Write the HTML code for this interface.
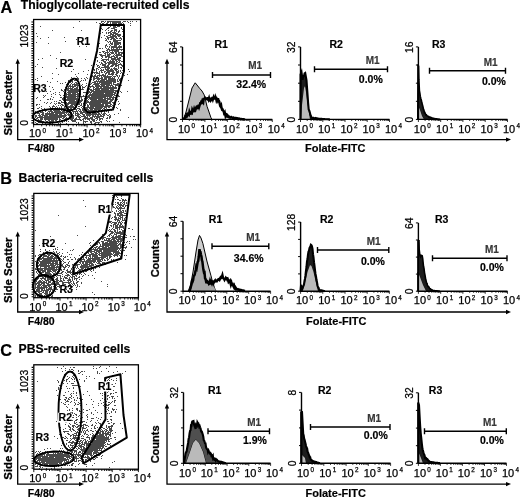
<!DOCTYPE html><html><head><meta charset="utf-8"><style>html,body{margin:0;padding:0;background:#fff;}svg{display:block;filter:blur(0.3px);}</style></head><body><svg width="520" height="497" viewBox="0 0 520 497" font-family='"Liberation Sans", sans-serif'>
<defs><filter id="soft" x="0" y="0" width="100%" height="100%"><feGaussianBlur stdDeviation="0.4"/></filter></defs>
<rect width="520" height="497" fill="#fff"/>
<text x="0.5" y="12.5" font-size="16.3" font-weight="bold" text-anchor="start" fill="#000" stroke="#000" stroke-width="0.18">A</text>
<text x="20.8" y="8.7" font-size="12.2" font-weight="bold" text-anchor="start" fill="#000" stroke="#000" stroke-width="0.18">Thioglycollate-recruited cells</text>
<path d="M35 66.5h1M35 79.5h1M35 111.5h1M35 112.5h1M35 115.5h1M35 116.5h1M35 117.5h1M35 119.5h1M35 120.5h1M35 122.5h1M36 33.5h1M36 42.5h1M36 98.5h1M36 104.5h1M36 105.5h1M36 115.5h1M36 116.5h1M36 118.5h1M36 120.5h1M36 123.5h1M37 36.5h1M37 64.5h1M37 78.5h1M37 80.5h1M37 97.5h1M37 104.5h1M37 108.5h1M37 112.5h1M37 113.5h1M37 117.5h1M37 118.5h1M37 121.5h1M37 123.5h1M38 59.5h1M38 108.5h1M38 111.5h1M38 112.5h1M38 113.5h1M38 115.5h1M38 117.5h1M38 119.5h1M38 120.5h1M38 122.5h1M39 92.5h1M39 104.5h1M39 107.5h1M39 110.5h1M39 113.5h1M39 114.5h1M39 115.5h1M39 116.5h1M39 117.5h1M39 120.5h1M39 122.5h1M40 26.5h1M40 38.5h1M40 100.5h1M40 110.5h1M40 112.5h1M40 115.5h1M40 116.5h1M40 117.5h1M40 118.5h1M40 119.5h1M40 120.5h1M40 122.5h1M41 76.5h1M41 106.5h1M41 108.5h1M41 112.5h1M41 114.5h1M41 116.5h1M41 117.5h1M41 118.5h1M41 119.5h1M41 120.5h1M41 122.5h1M42 58.5h1M42 67.5h1M42 109.5h1M42 110.5h1M42 111.5h1M42 112.5h1M42 113.5h1M42 114.5h1M42 115.5h1M42 116.5h1M42 117.5h1M42 118.5h1M42 119.5h1M42 121.5h1M42 122.5h1M42 123.5h1M43 95.5h1M43 97.5h1M43 112.5h1M43 113.5h1M43 114.5h1M43 115.5h1M43 117.5h1M43 121.5h1M44 96.5h1M44 102.5h1M44 108.5h1M44 110.5h1M44 115.5h1M44 116.5h1M44 117.5h1M44 118.5h1M44 119.5h1M44 122.5h1M45 95.5h1M45 109.5h1M45 110.5h1M45 111.5h1M45 113.5h1M45 114.5h1M45 115.5h1M45 116.5h1M45 117.5h1M45 118.5h1M45 119.5h1M45 120.5h1M45 122.5h1M45 123.5h1M46 91.5h1M46 103.5h1M46 110.5h1M46 113.5h1M46 114.5h1M46 115.5h1M46 116.5h1M46 117.5h1M46 118.5h1M46 119.5h1M46 121.5h1M47 81.5h1M47 93.5h1M47 99.5h1M47 102.5h1M47 112.5h1M47 113.5h1M47 114.5h1M47 115.5h1M47 116.5h1M47 117.5h1M47 118.5h1M47 119.5h1M47 121.5h1M48 37.5h1M48 43.5h1M48 99.5h1M48 109.5h1M48 111.5h1M48 113.5h1M48 114.5h1M48 116.5h1M48 117.5h1M48 118.5h1M48 119.5h1M48 120.5h1M48 122.5h1M49 86.5h1M49 106.5h1M49 111.5h1M49 112.5h1M49 113.5h1M49 114.5h1M49 115.5h1M49 116.5h1M49 117.5h1M49 118.5h1M49 119.5h1M49 120.5h1M49 121.5h1M49 123.5h1M50 55.5h1M50 82.5h1M50 91.5h1M50 98.5h1M50 99.5h1M50 103.5h1M50 107.5h1M50 108.5h1M50 110.5h1M50 111.5h1M50 113.5h1M50 114.5h1M50 115.5h1M50 116.5h1M50 117.5h1M50 118.5h1M50 119.5h1M50 121.5h1M50 123.5h1M51 94.5h1M51 96.5h1M51 102.5h1M51 109.5h1M51 110.5h1M51 111.5h1M51 112.5h1M51 113.5h1M51 114.5h1M51 115.5h1M51 116.5h1M51 117.5h1M51 118.5h1M51 119.5h1M51 120.5h1M51 121.5h1M52 30.5h1M52 73.5h1M52 78.5h1M52 87.5h1M52 99.5h1M52 106.5h1M52 107.5h1M52 108.5h1M52 109.5h1M52 111.5h1M52 112.5h1M52 113.5h1M52 114.5h1M52 115.5h1M52 116.5h1M52 117.5h1M52 118.5h1M52 119.5h1M52 120.5h1M52 121.5h1M52 122.5h1M52 123.5h1M53 89.5h1M53 93.5h1M53 97.5h1M53 105.5h1M53 106.5h1M53 110.5h1M53 112.5h1M53 113.5h1M53 114.5h1M53 115.5h1M53 116.5h1M53 117.5h1M53 118.5h1M53 119.5h1M53 120.5h1M53 121.5h1M53 122.5h1M54 101.5h1M54 103.5h1M54 106.5h1M54 108.5h1M54 109.5h1M54 110.5h1M54 111.5h1M54 112.5h1M54 114.5h1M54 115.5h1M54 116.5h1M54 117.5h1M54 118.5h1M54 119.5h1M55 92.5h1M55 94.5h1M55 104.5h1M55 107.5h1M55 109.5h1M55 110.5h1M55 111.5h1M55 112.5h1M55 113.5h1M55 114.5h1M55 115.5h1M55 116.5h1M55 117.5h1M55 118.5h1M55 119.5h1M55 120.5h1M56 58.5h1M56 68.5h1M56 101.5h1M56 103.5h1M56 106.5h1M56 108.5h1M56 109.5h1M56 110.5h1M56 111.5h1M56 112.5h1M56 113.5h1M56 114.5h1M56 115.5h1M56 116.5h1M56 117.5h1M56 118.5h1M56 119.5h1M56 120.5h1M56 122.5h1M57 81.5h1M57 107.5h1M57 108.5h1M57 109.5h1M57 110.5h1M57 111.5h1M57 112.5h1M57 113.5h1M57 114.5h1M57 115.5h1M57 116.5h1M57 117.5h1M57 118.5h1M57 119.5h1M57 121.5h1M57 122.5h1M58 74.5h1M58 102.5h1M58 103.5h1M58 105.5h1M58 109.5h1M58 110.5h1M58 111.5h1M58 112.5h1M58 113.5h1M58 115.5h1M58 116.5h1M58 117.5h1M58 123.5h1M59 92.5h1M59 94.5h1M59 100.5h1M59 102.5h1M59 103.5h1M59 107.5h1M59 108.5h1M59 110.5h1M59 111.5h1M59 112.5h1M59 113.5h1M59 114.5h1M59 115.5h1M59 116.5h1M59 117.5h1M59 118.5h1M59 119.5h1M59 120.5h1M59 121.5h1M60 52.5h1M60 83.5h1M60 95.5h1M60 97.5h1M60 100.5h1M60 103.5h1M60 105.5h1M60 111.5h1M60 112.5h1M60 113.5h1M60 114.5h1M60 115.5h1M60 116.5h1M60 117.5h1M60 119.5h1M60 121.5h1M60 123.5h1M61 61.5h1M61 89.5h1M61 90.5h1M61 97.5h1M61 101.5h1M61 102.5h1M61 104.5h1M61 106.5h1M61 107.5h1M61 108.5h1M61 110.5h1M61 112.5h1M61 113.5h1M61 114.5h1M61 115.5h1M61 116.5h1M61 117.5h1M61 120.5h1M62 83.5h1M62 90.5h1M62 98.5h1M62 99.5h1M62 102.5h1M62 104.5h1M62 105.5h1M62 108.5h1M62 111.5h1M62 112.5h1M62 113.5h1M62 115.5h1M62 116.5h1M62 118.5h1M62 121.5h1M62 122.5h1M63 91.5h1M63 95.5h1M63 97.5h1M63 98.5h1M63 99.5h1M63 100.5h1M63 102.5h1M63 105.5h1M63 108.5h1M63 110.5h1M63 111.5h1M63 112.5h1M63 113.5h1M63 115.5h1M63 116.5h1M63 117.5h1M63 118.5h1M63 120.5h1M64 37.5h1M64 89.5h1M64 90.5h1M64 92.5h1M64 95.5h1M64 99.5h1M64 101.5h1M64 102.5h1M64 103.5h1M64 106.5h1M64 107.5h1M64 108.5h1M64 109.5h1M64 111.5h1M64 112.5h1M64 113.5h1M64 114.5h1M64 115.5h1M64 116.5h1M64 117.5h1M64 119.5h1M64 121.5h1M65 41.5h1M65 82.5h1M65 87.5h1M65 91.5h1M65 96.5h1M65 97.5h1M65 98.5h1M65 99.5h1M65 100.5h1M65 101.5h1M65 102.5h1M65 104.5h1M65 106.5h1M65 108.5h1M65 109.5h1M65 112.5h1M65 114.5h1M65 115.5h1M65 116.5h1M65 118.5h1M65 119.5h1M65 120.5h1M66 84.5h1M66 93.5h1M66 94.5h1M66 95.5h1M66 96.5h1M66 97.5h1M66 99.5h1M66 100.5h1M66 102.5h1M66 103.5h1M66 104.5h1M66 105.5h1M66 106.5h1M66 107.5h1M66 111.5h1M66 112.5h1M66 113.5h1M66 115.5h1M66 117.5h1M66 118.5h1M66 120.5h1M66 121.5h1M66 123.5h1M67 83.5h1M67 88.5h1M67 89.5h1M67 90.5h1M67 92.5h1M67 94.5h1M67 96.5h1M67 97.5h1M67 98.5h1M67 99.5h1M67 100.5h1M67 103.5h1M67 104.5h1M67 105.5h1M67 106.5h1M67 107.5h1M67 108.5h1M67 109.5h1M67 111.5h1M67 112.5h1M67 114.5h1M67 118.5h1M67 119.5h1M68 80.5h1M68 81.5h1M68 82.5h1M68 84.5h1M68 86.5h1M68 87.5h1M68 88.5h1M68 89.5h1M68 90.5h1M68 91.5h1M68 92.5h1M68 93.5h1M68 94.5h1M68 95.5h1M68 96.5h1M68 97.5h1M68 98.5h1M68 99.5h1M68 100.5h1M68 102.5h1M68 103.5h1M68 104.5h1M68 106.5h1M68 107.5h1M68 108.5h1M68 109.5h1M68 111.5h1M68 113.5h1M68 114.5h1M68 115.5h1M68 118.5h1M68 119.5h1M68 121.5h1M69 82.5h1M69 85.5h1M69 86.5h1M69 88.5h1M69 90.5h1M69 91.5h1M69 92.5h1M69 93.5h1M69 94.5h1M69 95.5h1M69 96.5h1M69 97.5h1M69 98.5h1M69 99.5h1M69 100.5h1M69 101.5h1M69 102.5h1M69 103.5h1M69 106.5h1M69 107.5h1M69 109.5h1M69 110.5h1M69 111.5h1M69 112.5h1M69 114.5h1M69 115.5h1M69 116.5h1M69 117.5h1M70 81.5h1M70 82.5h1M70 84.5h1M70 85.5h1M70 86.5h1M70 87.5h1M70 88.5h1M70 89.5h1M70 90.5h1M70 91.5h1M70 92.5h1M70 93.5h1M70 94.5h1M70 95.5h1M70 96.5h1M70 97.5h1M70 98.5h1M70 99.5h1M70 100.5h1M70 101.5h1M70 102.5h1M70 103.5h1M70 105.5h1M70 106.5h1M70 107.5h1M70 108.5h1M70 109.5h1M70 111.5h1M70 112.5h1M70 113.5h1M70 114.5h1M70 115.5h1M70 116.5h1M70 118.5h1M70 119.5h1M71 71.5h1M71 77.5h1M71 80.5h1M71 81.5h1M71 83.5h1M71 86.5h1M71 88.5h1M71 89.5h1M71 90.5h1M71 91.5h1M71 92.5h1M71 94.5h1M71 95.5h1M71 96.5h1M71 97.5h1M71 98.5h1M71 99.5h1M71 100.5h1M71 101.5h1M71 102.5h1M71 103.5h1M71 104.5h1M71 105.5h1M71 106.5h1M71 107.5h1M71 108.5h1M71 109.5h1M71 110.5h1M71 112.5h1M71 113.5h1M71 114.5h1M71 115.5h1M71 116.5h1M71 117.5h1M71 118.5h1M71 119.5h1M71 120.5h1M72 62.5h1M72 79.5h1M72 80.5h1M72 81.5h1M72 82.5h1M72 84.5h1M72 85.5h1M72 86.5h1M72 87.5h1M72 88.5h1M72 89.5h1M72 90.5h1M72 91.5h1M72 92.5h1M72 93.5h1M72 94.5h1M72 95.5h1M72 96.5h1M72 97.5h1M72 98.5h1M72 99.5h1M72 100.5h1M72 101.5h1M72 102.5h1M72 103.5h1M72 104.5h1M72 105.5h1M72 106.5h1M72 107.5h1M72 109.5h1M72 111.5h1M72 114.5h1M72 115.5h1M72 116.5h1M72 117.5h1M72 118.5h1M72 119.5h1M72 120.5h1M72 121.5h1M73 27.5h1M73 69.5h1M73 78.5h1M73 79.5h1M73 84.5h1M73 86.5h1M73 87.5h1M73 89.5h1M73 90.5h1M73 91.5h1M73 92.5h1M73 93.5h1M73 94.5h1M73 95.5h1M73 96.5h1M73 97.5h1M73 98.5h1M73 99.5h1M73 100.5h1M73 101.5h1M73 102.5h1M73 103.5h1M73 104.5h1M73 106.5h1M73 107.5h1M73 109.5h1M73 111.5h1M73 112.5h1M73 113.5h1M73 115.5h1M73 116.5h1M73 117.5h1M73 118.5h1M73 120.5h1M73 121.5h1M74 80.5h1M74 83.5h1M74 84.5h1M74 85.5h1M74 86.5h1M74 88.5h1M74 89.5h1M74 90.5h1M74 91.5h1M74 92.5h1M74 93.5h1M74 94.5h1M74 95.5h1M74 96.5h1M74 97.5h1M74 98.5h1M74 99.5h1M74 100.5h1M74 101.5h1M74 102.5h1M74 103.5h1M74 104.5h1M74 105.5h1M74 108.5h1M74 109.5h1M74 111.5h1M74 119.5h1M74 120.5h1M74 121.5h1M75 74.5h1M75 78.5h1M75 79.5h1M75 80.5h1M75 82.5h1M75 84.5h1M75 85.5h1M75 86.5h1M75 88.5h1M75 89.5h1M75 90.5h1M75 91.5h1M75 92.5h1M75 93.5h1M75 94.5h1M75 95.5h1M75 96.5h1M75 97.5h1M75 98.5h1M75 99.5h1M75 101.5h1M75 102.5h1M75 103.5h1M75 104.5h1M75 105.5h1M75 106.5h1M75 108.5h1M75 109.5h1M75 111.5h1M75 112.5h1M75 113.5h1M75 114.5h1M75 115.5h1M75 118.5h1M75 119.5h1M75 120.5h1M75 121.5h1M76 39.5h1M76 76.5h1M76 78.5h1M76 80.5h1M76 82.5h1M76 83.5h1M76 84.5h1M76 85.5h1M76 87.5h1M76 88.5h1M76 89.5h1M76 90.5h1M76 91.5h1M76 92.5h1M76 94.5h1M76 96.5h1M76 98.5h1M76 99.5h1M76 100.5h1M76 101.5h1M76 102.5h1M76 103.5h1M76 104.5h1M76 106.5h1M76 107.5h1M76 109.5h1M76 110.5h1M76 111.5h1M76 113.5h1M76 115.5h1M76 117.5h1M76 118.5h1M76 119.5h1M76 122.5h1M77 77.5h1M77 78.5h1M77 81.5h1M77 83.5h1M77 84.5h1M77 85.5h1M77 86.5h1M77 87.5h1M77 88.5h1M77 89.5h1M77 90.5h1M77 91.5h1M77 92.5h1M77 93.5h1M77 94.5h1M77 95.5h1M77 96.5h1M77 97.5h1M77 98.5h1M77 99.5h1M77 100.5h1M77 101.5h1M77 102.5h1M77 103.5h1M77 104.5h1M77 108.5h1M77 111.5h1M77 112.5h1M77 113.5h1M77 114.5h1M77 115.5h1M77 116.5h1M77 119.5h1M78 73.5h1M78 78.5h1M78 79.5h1M78 83.5h1M78 85.5h1M78 89.5h1M78 90.5h1M78 91.5h1M78 93.5h1M78 94.5h1M78 95.5h1M78 96.5h1M78 100.5h1M78 102.5h1M78 103.5h1M78 104.5h1M78 106.5h1M78 108.5h1M78 110.5h1M78 113.5h1M78 114.5h1M78 115.5h1M78 116.5h1M78 117.5h1M78 119.5h1M78 122.5h1M78 123.5h1M79 21.5h1M79 46.5h1M79 86.5h1M79 87.5h1M79 89.5h1M79 91.5h1M79 93.5h1M79 94.5h1M79 96.5h1M79 97.5h1M79 99.5h1M79 100.5h1M79 101.5h1M79 102.5h1M79 103.5h1M79 104.5h1M79 106.5h1M79 108.5h1M79 109.5h1M79 111.5h1M79 114.5h1M79 116.5h1M79 117.5h1M79 118.5h1M79 119.5h1M80 81.5h1M80 86.5h1M80 87.5h1M80 88.5h1M80 90.5h1M80 91.5h1M80 92.5h1M80 93.5h1M80 94.5h1M80 96.5h1M80 100.5h1M80 101.5h1M80 102.5h1M80 105.5h1M80 109.5h1M80 110.5h1M80 111.5h1M80 112.5h1M80 113.5h1M80 115.5h1M80 117.5h1M80 119.5h1M80 120.5h1M81 30.5h1M81 78.5h1M81 80.5h1M81 85.5h1M81 89.5h1M81 96.5h1M81 97.5h1M81 98.5h1M81 99.5h1M81 100.5h1M81 101.5h1M81 103.5h1M81 104.5h1M81 105.5h1M81 107.5h1M81 111.5h1M81 112.5h1M81 113.5h1M81 116.5h1M81 120.5h1M82 84.5h1M82 86.5h1M82 87.5h1M82 88.5h1M82 89.5h1M82 96.5h1M82 99.5h1M82 100.5h1M82 106.5h1M82 108.5h1M82 109.5h1M82 110.5h1M82 112.5h1M82 113.5h1M82 114.5h1M82 116.5h1M82 119.5h1M83 71.5h1M83 80.5h1M83 87.5h1M83 89.5h1M83 92.5h1M83 95.5h1M83 96.5h1M83 103.5h1M83 107.5h1M83 109.5h1M83 110.5h1M83 111.5h1M83 112.5h1M83 114.5h1M83 115.5h1M83 116.5h1M83 118.5h1M83 119.5h1M83 120.5h1M83 121.5h1M83 122.5h1M83 123.5h1M84 78.5h1M84 87.5h1M84 92.5h1M84 96.5h1M84 98.5h1M84 105.5h1M84 106.5h1M84 107.5h1M84 110.5h1M84 111.5h1M84 112.5h1M84 114.5h1M84 115.5h1M84 116.5h1M84 117.5h1M84 118.5h1M84 121.5h1M85 59.5h1M85 79.5h1M85 80.5h1M85 86.5h1M85 92.5h1M85 100.5h1M85 101.5h1M85 102.5h1M85 103.5h1M85 104.5h1M85 105.5h1M85 107.5h1M85 108.5h1M85 109.5h1M85 111.5h1M85 112.5h1M85 113.5h1M85 116.5h1M85 117.5h1M85 118.5h1M85 119.5h1M85 121.5h1M85 122.5h1M86 46.5h1M86 77.5h1M86 83.5h1M86 85.5h1M86 95.5h1M86 96.5h1M86 98.5h1M86 99.5h1M86 100.5h1M86 101.5h1M86 102.5h1M86 103.5h1M86 107.5h1M86 108.5h1M86 109.5h1M86 110.5h1M86 111.5h1M86 112.5h1M86 113.5h1M86 114.5h1M86 115.5h1M86 117.5h1M86 118.5h1M86 121.5h1M87 74.5h1M87 78.5h1M87 89.5h1M87 92.5h1M87 93.5h1M87 94.5h1M87 96.5h1M87 97.5h1M87 98.5h1M87 100.5h1M87 101.5h1M87 102.5h1M87 104.5h1M87 105.5h1M87 106.5h1M87 107.5h1M87 108.5h1M87 109.5h1M87 111.5h1M87 113.5h1M87 114.5h1M87 115.5h1M87 116.5h1M87 117.5h1M87 118.5h1M87 119.5h1M87 121.5h1M88 70.5h1M88 86.5h1M88 88.5h1M88 89.5h1M88 90.5h1M88 91.5h1M88 92.5h1M88 93.5h1M88 95.5h1M88 96.5h1M88 97.5h1M88 99.5h1M88 101.5h1M88 102.5h1M88 105.5h1M88 106.5h1M88 107.5h1M88 109.5h1M88 110.5h1M88 111.5h1M88 112.5h1M88 114.5h1M88 115.5h1M88 118.5h1M88 119.5h1M89 83.5h1M89 86.5h1M89 88.5h1M89 89.5h1M89 91.5h1M89 92.5h1M89 94.5h1M89 95.5h1M89 96.5h1M89 97.5h1M89 98.5h1M89 102.5h1M89 103.5h1M89 104.5h1M89 107.5h1M89 108.5h1M89 110.5h1M89 111.5h1M89 112.5h1M89 113.5h1M89 114.5h1M89 115.5h1M89 116.5h1M89 118.5h1M89 119.5h1M89 120.5h1M90 76.5h1M90 80.5h1M90 84.5h1M90 86.5h1M90 87.5h1M90 89.5h1M90 90.5h1M90 92.5h1M90 93.5h1M90 94.5h1M90 95.5h1M90 97.5h1M90 98.5h1M90 99.5h1M90 101.5h1M90 102.5h1M90 103.5h1M90 104.5h1M90 105.5h1M90 106.5h1M90 107.5h1M90 108.5h1M90 109.5h1M90 110.5h1M90 111.5h1M90 112.5h1M90 113.5h1M90 114.5h1M90 115.5h1M90 117.5h1M90 118.5h1M90 121.5h1M90 122.5h1M91 65.5h1M91 77.5h1M91 79.5h1M91 83.5h1M91 86.5h1M91 89.5h1M91 90.5h1M91 91.5h1M91 92.5h1M91 94.5h1M91 95.5h1M91 96.5h1M91 97.5h1M91 98.5h1M91 99.5h1M91 100.5h1M91 101.5h1M91 102.5h1M91 103.5h1M91 104.5h1M91 105.5h1M91 106.5h1M91 107.5h1M91 108.5h1M91 109.5h1M91 110.5h1M91 111.5h1M91 112.5h1M91 114.5h1M91 117.5h1M91 118.5h1M91 119.5h1M91 121.5h1M91 122.5h1M91 123.5h1M92 72.5h1M92 73.5h1M92 75.5h1M92 76.5h1M92 82.5h1M92 85.5h1M92 86.5h1M92 90.5h1M92 91.5h1M92 93.5h1M92 94.5h1M92 95.5h1M92 96.5h1M92 97.5h1M92 98.5h1M92 99.5h1M92 100.5h1M92 101.5h1M92 102.5h1M92 103.5h1M92 104.5h1M92 105.5h1M92 106.5h1M92 107.5h1M92 108.5h1M92 109.5h1M92 110.5h1M92 111.5h1M92 112.5h1M92 113.5h1M92 114.5h1M92 115.5h1M92 116.5h1M92 117.5h1M92 118.5h1M92 119.5h1M92 120.5h1M93 69.5h1M93 72.5h1M93 76.5h1M93 77.5h1M93 78.5h1M93 79.5h1M93 80.5h1M93 82.5h1M93 84.5h1M93 86.5h1M93 87.5h1M93 88.5h1M93 89.5h1M93 90.5h1M93 91.5h1M93 92.5h1M93 93.5h1M93 94.5h1M93 95.5h1M93 96.5h1M93 97.5h1M93 98.5h1M93 99.5h1M93 100.5h1M93 101.5h1M93 102.5h1M93 103.5h1M93 104.5h1M93 105.5h1M93 106.5h1M93 107.5h1M93 108.5h1M93 110.5h1M93 111.5h1M93 112.5h1M93 113.5h1M93 114.5h1M93 115.5h1M93 116.5h1M93 119.5h1M93 120.5h1M93 121.5h1M94 62.5h1M94 64.5h1M94 69.5h1M94 70.5h1M94 72.5h1M94 73.5h1M94 75.5h1M94 76.5h1M94 77.5h1M94 78.5h1M94 79.5h1M94 81.5h1M94 82.5h1M94 83.5h1M94 84.5h1M94 87.5h1M94 89.5h1M94 91.5h1M94 92.5h1M94 93.5h1M94 94.5h1M94 95.5h1M94 96.5h1M94 97.5h1M94 98.5h1M94 99.5h1M94 100.5h1M94 101.5h1M94 102.5h1M94 103.5h1M94 104.5h1M94 105.5h1M94 106.5h1M94 108.5h1M94 109.5h1M94 110.5h1M94 111.5h1M94 112.5h1M94 113.5h1M94 114.5h1M94 116.5h1M94 117.5h1M94 119.5h1M94 120.5h1M94 121.5h1M94 123.5h1M95 58.5h1M95 72.5h1M95 74.5h1M95 75.5h1M95 76.5h1M95 78.5h1M95 81.5h1M95 82.5h1M95 83.5h1M95 84.5h1M95 85.5h1M95 86.5h1M95 88.5h1M95 89.5h1M95 90.5h1M95 91.5h1M95 92.5h1M95 93.5h1M95 94.5h1M95 95.5h1M95 96.5h1M95 97.5h1M95 98.5h1M95 99.5h1M95 100.5h1M95 101.5h1M95 102.5h1M95 103.5h1M95 104.5h1M95 105.5h1M95 106.5h1M95 107.5h1M95 108.5h1M95 109.5h1M95 110.5h1M95 111.5h1M95 112.5h1M95 113.5h1M95 114.5h1M95 115.5h1M95 116.5h1M95 118.5h1M95 122.5h1M95 123.5h1M96 22.5h1M96 57.5h1M96 64.5h1M96 68.5h1M96 69.5h1M96 70.5h1M96 71.5h1M96 72.5h1M96 73.5h1M96 76.5h1M96 77.5h1M96 78.5h1M96 80.5h1M96 81.5h1M96 83.5h1M96 84.5h1M96 85.5h1M96 86.5h1M96 87.5h1M96 88.5h1M96 89.5h1M96 90.5h1M96 91.5h1M96 92.5h1M96 93.5h1M96 94.5h1M96 95.5h1M96 96.5h1M96 97.5h1M96 98.5h1M96 99.5h1M96 100.5h1M96 101.5h1M96 102.5h1M96 103.5h1M96 104.5h1M96 105.5h1M96 106.5h1M96 107.5h1M96 108.5h1M96 109.5h1M96 110.5h1M96 111.5h1M96 113.5h1M96 114.5h1M96 116.5h1M96 117.5h1M96 118.5h1M96 120.5h1M96 122.5h1M97 50.5h1M97 57.5h1M97 60.5h1M97 61.5h1M97 65.5h1M97 66.5h1M97 68.5h1M97 72.5h1M97 73.5h1M97 75.5h1M97 76.5h1M97 77.5h1M97 78.5h1M97 79.5h1M97 81.5h1M97 82.5h1M97 83.5h1M97 84.5h1M97 85.5h1M97 86.5h1M97 87.5h1M97 88.5h1M97 89.5h1M97 90.5h1M97 91.5h1M97 92.5h1M97 93.5h1M97 94.5h1M97 95.5h1M97 96.5h1M97 97.5h1M97 98.5h1M97 100.5h1M97 101.5h1M97 102.5h1M97 103.5h1M97 104.5h1M97 105.5h1M97 106.5h1M97 107.5h1M97 108.5h1M97 109.5h1M97 111.5h1M97 112.5h1M97 114.5h1M97 115.5h1M97 116.5h1M97 117.5h1M97 118.5h1M97 119.5h1M97 122.5h1M98 45.5h1M98 46.5h1M98 65.5h1M98 67.5h1M98 69.5h1M98 73.5h1M98 75.5h1M98 77.5h1M98 78.5h1M98 79.5h1M98 80.5h1M98 81.5h1M98 83.5h1M98 84.5h1M98 85.5h1M98 86.5h1M98 87.5h1M98 88.5h1M98 89.5h1M98 90.5h1M98 91.5h1M98 92.5h1M98 93.5h1M98 94.5h1M98 95.5h1M98 96.5h1M98 97.5h1M98 98.5h1M98 99.5h1M98 100.5h1M98 101.5h1M98 102.5h1M98 103.5h1M98 104.5h1M98 105.5h1M98 106.5h1M98 107.5h1M98 108.5h1M98 109.5h1M98 110.5h1M98 111.5h1M98 112.5h1M98 113.5h1M98 114.5h1M98 115.5h1M98 116.5h1M98 117.5h1M98 122.5h1M98 123.5h1M99 23.5h1M99 43.5h1M99 48.5h1M99 52.5h1M99 54.5h1M99 62.5h1M99 66.5h1M99 67.5h1M99 71.5h1M99 72.5h1M99 73.5h1M99 74.5h1M99 75.5h1M99 76.5h1M99 78.5h1M99 79.5h1M99 81.5h1M99 82.5h1M99 83.5h1M99 85.5h1M99 86.5h1M99 88.5h1M99 89.5h1M99 90.5h1M99 91.5h1M99 92.5h1M99 93.5h1M99 94.5h1M99 95.5h1M99 96.5h1M99 97.5h1M99 98.5h1M99 99.5h1M99 100.5h1M99 101.5h1M99 102.5h1M99 103.5h1M99 104.5h1M99 105.5h1M99 106.5h1M99 107.5h1M99 108.5h1M99 109.5h1M99 110.5h1M99 111.5h1M99 113.5h1M99 114.5h1M99 116.5h1M99 117.5h1M99 118.5h1M99 119.5h1M99 120.5h1M99 122.5h1M100 23.5h1M100 33.5h1M100 48.5h1M100 52.5h1M100 54.5h1M100 55.5h1M100 64.5h1M100 68.5h1M100 70.5h1M100 75.5h1M100 78.5h1M100 80.5h1M100 81.5h1M100 82.5h1M100 84.5h1M100 86.5h1M100 87.5h1M100 88.5h1M100 90.5h1M100 91.5h1M100 92.5h1M100 93.5h1M100 94.5h1M100 95.5h1M100 96.5h1M100 97.5h1M100 98.5h1M100 99.5h1M100 100.5h1M100 101.5h1M100 102.5h1M100 103.5h1M100 104.5h1M100 105.5h1M100 106.5h1M100 107.5h1M100 108.5h1M100 109.5h1M100 111.5h1M100 114.5h1M100 115.5h1M100 116.5h1M100 118.5h1M100 119.5h1M100 121.5h1M101 21.5h1M101 22.5h1M101 28.5h1M101 37.5h1M101 54.5h1M101 55.5h1M101 56.5h1M101 58.5h1M101 60.5h1M101 62.5h1M101 63.5h1M101 67.5h1M101 69.5h1M101 70.5h1M101 71.5h1M101 72.5h1M101 75.5h1M101 76.5h1M101 77.5h1M101 78.5h1M101 79.5h1M101 80.5h1M101 81.5h1M101 82.5h1M101 83.5h1M101 84.5h1M101 85.5h1M101 86.5h1M101 87.5h1M101 88.5h1M101 89.5h1M101 90.5h1M101 91.5h1M101 92.5h1M101 93.5h1M101 94.5h1M101 95.5h1M101 96.5h1M101 97.5h1M101 98.5h1M101 99.5h1M101 100.5h1M101 101.5h1M101 102.5h1M101 104.5h1M101 105.5h1M101 106.5h1M101 107.5h1M101 108.5h1M101 110.5h1M101 111.5h1M101 112.5h1M101 113.5h1M101 115.5h1M101 116.5h1M101 118.5h1M101 121.5h1M101 122.5h1M102 21.5h1M102 23.5h1M102 29.5h1M102 32.5h1M102 48.5h1M102 51.5h1M102 55.5h1M102 56.5h1M102 57.5h1M102 59.5h1M102 60.5h1M102 63.5h1M102 64.5h1M102 65.5h1M102 67.5h1M102 70.5h1M102 72.5h1M102 74.5h1M102 75.5h1M102 77.5h1M102 78.5h1M102 79.5h1M102 80.5h1M102 81.5h1M102 82.5h1M102 83.5h1M102 84.5h1M102 85.5h1M102 86.5h1M102 88.5h1M102 89.5h1M102 90.5h1M102 91.5h1M102 92.5h1M102 93.5h1M102 94.5h1M102 95.5h1M102 96.5h1M102 97.5h1M102 98.5h1M102 99.5h1M102 100.5h1M102 101.5h1M102 102.5h1M102 103.5h1M102 104.5h1M102 105.5h1M102 106.5h1M102 107.5h1M102 109.5h1M102 110.5h1M102 111.5h1M102 114.5h1M102 116.5h1M102 118.5h1M102 119.5h1M103 21.5h1M103 23.5h1M103 25.5h1M103 51.5h1M103 52.5h1M103 55.5h1M103 59.5h1M103 60.5h1M103 61.5h1M103 64.5h1M103 65.5h1M103 67.5h1M103 69.5h1M103 70.5h1M103 74.5h1M103 75.5h1M103 76.5h1M103 79.5h1M103 80.5h1M103 81.5h1M103 82.5h1M103 83.5h1M103 84.5h1M103 85.5h1M103 86.5h1M103 87.5h1M103 88.5h1M103 89.5h1M103 90.5h1M103 91.5h1M103 92.5h1M103 93.5h1M103 94.5h1M103 95.5h1M103 96.5h1M103 97.5h1M103 99.5h1M103 100.5h1M103 101.5h1M103 102.5h1M103 103.5h1M103 104.5h1M103 105.5h1M103 106.5h1M103 108.5h1M103 110.5h1M103 113.5h1M103 114.5h1M103 115.5h1M103 116.5h1M103 117.5h1M104 22.5h1M104 35.5h1M104 51.5h1M104 53.5h1M104 55.5h1M104 59.5h1M104 61.5h1M104 62.5h1M104 64.5h1M104 65.5h1M104 66.5h1M104 67.5h1M104 71.5h1M104 72.5h1M104 75.5h1M104 76.5h1M104 77.5h1M104 78.5h1M104 79.5h1M104 80.5h1M104 81.5h1M104 82.5h1M104 83.5h1M104 84.5h1M104 85.5h1M104 86.5h1M104 87.5h1M104 88.5h1M104 89.5h1M104 90.5h1M104 91.5h1M104 92.5h1M104 94.5h1M104 95.5h1M104 96.5h1M104 97.5h1M104 98.5h1M104 99.5h1M104 100.5h1M104 101.5h1M104 102.5h1M104 103.5h1M104 106.5h1M104 107.5h1M104 108.5h1M104 109.5h1M104 110.5h1M104 111.5h1M104 112.5h1M104 113.5h1M104 114.5h1M104 115.5h1M105 21.5h1M105 30.5h1M105 38.5h1M105 40.5h1M105 45.5h1M105 46.5h1M105 47.5h1M105 52.5h1M105 53.5h1M105 54.5h1M105 55.5h1M105 56.5h1M105 57.5h1M105 59.5h1M105 61.5h1M105 62.5h1M105 63.5h1M105 64.5h1M105 65.5h1M105 66.5h1M105 67.5h1M105 68.5h1M105 69.5h1M105 71.5h1M105 73.5h1M105 74.5h1M105 75.5h1M105 76.5h1M105 77.5h1M105 78.5h1M105 79.5h1M105 81.5h1M105 82.5h1M105 83.5h1M105 84.5h1M105 86.5h1M105 87.5h1M105 88.5h1M105 89.5h1M105 90.5h1M105 91.5h1M105 92.5h1M105 93.5h1M105 94.5h1M105 95.5h1M105 96.5h1M105 97.5h1M105 98.5h1M105 99.5h1M105 100.5h1M105 101.5h1M105 102.5h1M105 103.5h1M105 104.5h1M105 105.5h1M105 106.5h1M105 107.5h1M105 109.5h1M105 110.5h1M105 113.5h1M106 23.5h1M106 24.5h1M106 25.5h1M106 29.5h1M106 32.5h1M106 33.5h1M106 36.5h1M106 39.5h1M106 40.5h1M106 44.5h1M106 45.5h1M106 48.5h1M106 50.5h1M106 52.5h1M106 56.5h1M106 57.5h1M106 59.5h1M106 60.5h1M106 63.5h1M106 66.5h1M106 67.5h1M106 69.5h1M106 70.5h1M106 72.5h1M106 73.5h1M106 76.5h1M106 77.5h1M106 78.5h1M106 79.5h1M106 80.5h1M106 81.5h1M106 82.5h1M106 83.5h1M106 84.5h1M106 85.5h1M106 86.5h1M106 87.5h1M106 88.5h1M106 89.5h1M106 90.5h1M106 91.5h1M106 92.5h1M106 93.5h1M106 94.5h1M106 95.5h1M106 96.5h1M106 98.5h1M106 100.5h1M106 101.5h1M106 102.5h1M106 103.5h1M106 104.5h1M106 105.5h1M106 106.5h1M106 107.5h1M106 108.5h1M106 111.5h1M106 114.5h1M106 118.5h1M106 120.5h1M107 21.5h1M107 22.5h1M107 23.5h1M107 25.5h1M107 28.5h1M107 36.5h1M107 37.5h1M107 38.5h1M107 41.5h1M107 46.5h1M107 49.5h1M107 50.5h1M107 51.5h1M107 52.5h1M107 53.5h1M107 54.5h1M107 55.5h1M107 56.5h1M107 59.5h1M107 62.5h1M107 65.5h1M107 66.5h1M107 67.5h1M107 68.5h1M107 69.5h1M107 70.5h1M107 71.5h1M107 72.5h1M107 75.5h1M107 76.5h1M107 77.5h1M107 80.5h1M107 81.5h1M107 82.5h1M107 83.5h1M107 84.5h1M107 85.5h1M107 86.5h1M107 87.5h1M107 88.5h1M107 89.5h1M107 90.5h1M107 91.5h1M107 92.5h1M107 93.5h1M107 94.5h1M107 95.5h1M107 96.5h1M107 97.5h1M107 98.5h1M107 99.5h1M107 100.5h1M107 101.5h1M107 102.5h1M107 103.5h1M107 104.5h1M107 105.5h1M107 106.5h1M107 109.5h1M107 110.5h1M107 115.5h1M107 117.5h1M107 118.5h1M107 121.5h1M108 21.5h1M108 22.5h1M108 24.5h1M108 25.5h1M108 27.5h1M108 28.5h1M108 30.5h1M108 32.5h1M108 33.5h1M108 35.5h1M108 37.5h1M108 38.5h1M108 39.5h1M108 42.5h1M108 48.5h1M108 49.5h1M108 52.5h1M108 54.5h1M108 55.5h1M108 56.5h1M108 57.5h1M108 58.5h1M108 59.5h1M108 60.5h1M108 62.5h1M108 63.5h1M108 64.5h1M108 65.5h1M108 66.5h1M108 67.5h1M108 68.5h1M108 69.5h1M108 70.5h1M108 71.5h1M108 72.5h1M108 73.5h1M108 74.5h1M108 76.5h1M108 77.5h1M108 78.5h1M108 79.5h1M108 80.5h1M108 81.5h1M108 82.5h1M108 83.5h1M108 84.5h1M108 85.5h1M108 86.5h1M108 87.5h1M108 88.5h1M108 89.5h1M108 90.5h1M108 91.5h1M108 92.5h1M108 93.5h1M108 94.5h1M108 95.5h1M108 96.5h1M108 98.5h1M108 99.5h1M108 102.5h1M108 103.5h1M108 105.5h1M108 106.5h1M108 107.5h1M108 109.5h1M108 110.5h1M108 111.5h1M108 112.5h1M108 115.5h1M109 21.5h1M109 24.5h1M109 27.5h1M109 32.5h1M109 35.5h1M109 37.5h1M109 41.5h1M109 44.5h1M109 46.5h1M109 47.5h1M109 49.5h1M109 50.5h1M109 51.5h1M109 53.5h1M109 54.5h1M109 55.5h1M109 56.5h1M109 57.5h1M109 61.5h1M109 62.5h1M109 63.5h1M109 64.5h1M109 67.5h1M109 68.5h1M109 70.5h1M109 71.5h1M109 72.5h1M109 73.5h1M109 74.5h1M109 76.5h1M109 77.5h1M109 78.5h1M109 79.5h1M109 80.5h1M109 81.5h1M109 82.5h1M109 83.5h1M109 84.5h1M109 85.5h1M109 87.5h1M109 88.5h1M109 90.5h1M109 91.5h1M109 92.5h1M109 93.5h1M109 94.5h1M109 95.5h1M109 96.5h1M109 97.5h1M109 98.5h1M109 99.5h1M109 101.5h1M109 102.5h1M109 103.5h1M109 105.5h1M109 106.5h1M109 107.5h1M109 114.5h1M109 116.5h1M109 117.5h1M109 118.5h1M109 121.5h1M110 21.5h1M110 22.5h1M110 23.5h1M110 24.5h1M110 25.5h1M110 26.5h1M110 31.5h1M110 32.5h1M110 33.5h1M110 34.5h1M110 35.5h1M110 36.5h1M110 37.5h1M110 39.5h1M110 41.5h1M110 42.5h1M110 43.5h1M110 45.5h1M110 50.5h1M110 52.5h1M110 54.5h1M110 57.5h1M110 60.5h1M110 61.5h1M110 62.5h1M110 63.5h1M110 66.5h1M110 69.5h1M110 70.5h1M110 71.5h1M110 74.5h1M110 76.5h1M110 77.5h1M110 78.5h1M110 79.5h1M110 80.5h1M110 81.5h1M110 82.5h1M110 83.5h1M110 85.5h1M110 86.5h1M110 87.5h1M110 88.5h1M110 89.5h1M110 90.5h1M110 91.5h1M110 92.5h1M110 93.5h1M110 94.5h1M110 95.5h1M110 96.5h1M110 97.5h1M110 98.5h1M110 99.5h1M110 100.5h1M110 101.5h1M110 102.5h1M110 103.5h1M110 104.5h1M110 105.5h1M110 106.5h1M110 109.5h1M110 115.5h1M110 116.5h1M110 117.5h1M111 21.5h1M111 28.5h1M111 30.5h1M111 31.5h1M111 33.5h1M111 34.5h1M111 36.5h1M111 37.5h1M111 38.5h1M111 39.5h1M111 43.5h1M111 44.5h1M111 46.5h1M111 47.5h1M111 48.5h1M111 49.5h1M111 50.5h1M111 52.5h1M111 53.5h1M111 56.5h1M111 57.5h1M111 58.5h1M111 59.5h1M111 61.5h1M111 62.5h1M111 63.5h1M111 65.5h1M111 66.5h1M111 68.5h1M111 69.5h1M111 70.5h1M111 71.5h1M111 73.5h1M111 74.5h1M111 76.5h1M111 78.5h1M111 79.5h1M111 80.5h1M111 81.5h1M111 82.5h1M111 83.5h1M111 84.5h1M111 85.5h1M111 87.5h1M111 88.5h1M111 89.5h1M111 90.5h1M111 91.5h1M111 92.5h1M111 93.5h1M111 94.5h1M111 95.5h1M111 96.5h1M111 97.5h1M111 99.5h1M111 100.5h1M111 101.5h1M111 104.5h1M111 106.5h1M111 109.5h1M111 110.5h1M112 21.5h1M112 22.5h1M112 23.5h1M112 25.5h1M112 28.5h1M112 30.5h1M112 32.5h1M112 34.5h1M112 35.5h1M112 36.5h1M112 37.5h1M112 38.5h1M112 42.5h1M112 43.5h1M112 44.5h1M112 46.5h1M112 47.5h1M112 49.5h1M112 50.5h1M112 51.5h1M112 52.5h1M112 53.5h1M112 56.5h1M112 58.5h1M112 59.5h1M112 60.5h1M112 61.5h1M112 62.5h1M112 63.5h1M112 64.5h1M112 65.5h1M112 66.5h1M112 69.5h1M112 70.5h1M112 71.5h1M112 72.5h1M112 73.5h1M112 74.5h1M112 75.5h1M112 77.5h1M112 78.5h1M112 79.5h1M112 80.5h1M112 81.5h1M112 85.5h1M112 86.5h1M112 87.5h1M112 88.5h1M112 89.5h1M112 90.5h1M112 91.5h1M112 92.5h1M112 93.5h1M112 94.5h1M112 95.5h1M112 97.5h1M112 98.5h1M112 99.5h1M112 100.5h1M112 102.5h1M112 105.5h1M112 107.5h1M113 21.5h1M113 22.5h1M113 23.5h1M113 24.5h1M113 26.5h1M113 27.5h1M113 28.5h1M113 32.5h1M113 33.5h1M113 34.5h1M113 35.5h1M113 36.5h1M113 37.5h1M113 38.5h1M113 39.5h1M113 40.5h1M113 41.5h1M113 46.5h1M113 47.5h1M113 48.5h1M113 49.5h1M113 50.5h1M113 52.5h1M113 53.5h1M113 55.5h1M113 56.5h1M113 58.5h1M113 59.5h1M113 60.5h1M113 61.5h1M113 62.5h1M113 63.5h1M113 64.5h1M113 65.5h1M113 68.5h1M113 70.5h1M113 71.5h1M113 72.5h1M113 73.5h1M113 74.5h1M113 76.5h1M113 78.5h1M113 79.5h1M113 80.5h1M113 81.5h1M113 82.5h1M113 83.5h1M113 84.5h1M113 86.5h1M113 87.5h1M113 88.5h1M113 89.5h1M113 90.5h1M113 91.5h1M113 92.5h1M113 94.5h1M113 96.5h1M113 97.5h1M113 98.5h1M113 99.5h1M113 102.5h1M113 103.5h1M113 120.5h1M114 21.5h1M114 22.5h1M114 23.5h1M114 24.5h1M114 25.5h1M114 26.5h1M114 27.5h1M114 28.5h1M114 29.5h1M114 30.5h1M114 31.5h1M114 32.5h1M114 33.5h1M114 35.5h1M114 36.5h1M114 38.5h1M114 39.5h1M114 40.5h1M114 41.5h1M114 42.5h1M114 43.5h1M114 44.5h1M114 45.5h1M114 46.5h1M114 47.5h1M114 49.5h1M114 50.5h1M114 51.5h1M114 54.5h1M114 56.5h1M114 57.5h1M114 58.5h1M114 59.5h1M114 61.5h1M114 62.5h1M114 63.5h1M114 64.5h1M114 67.5h1M114 68.5h1M114 69.5h1M114 72.5h1M114 76.5h1M114 77.5h1M114 78.5h1M114 79.5h1M114 80.5h1M114 81.5h1M114 82.5h1M114 84.5h1M114 87.5h1M114 88.5h1M114 90.5h1M114 92.5h1M114 93.5h1M114 94.5h1M114 95.5h1M114 97.5h1M114 104.5h1M114 106.5h1M114 107.5h1M114 114.5h1M115 21.5h1M115 22.5h1M115 23.5h1M115 25.5h1M115 26.5h1M115 27.5h1M115 29.5h1M115 30.5h1M115 32.5h1M115 33.5h1M115 34.5h1M115 35.5h1M115 36.5h1M115 37.5h1M115 39.5h1M115 40.5h1M115 41.5h1M115 42.5h1M115 43.5h1M115 44.5h1M115 45.5h1M115 46.5h1M115 47.5h1M115 49.5h1M115 50.5h1M115 51.5h1M115 52.5h1M115 53.5h1M115 55.5h1M115 57.5h1M115 58.5h1M115 59.5h1M115 60.5h1M115 63.5h1M115 64.5h1M115 65.5h1M115 66.5h1M115 68.5h1M115 69.5h1M115 70.5h1M115 74.5h1M115 76.5h1M115 79.5h1M115 80.5h1M115 81.5h1M115 82.5h1M115 84.5h1M115 85.5h1M115 86.5h1M115 87.5h1M115 88.5h1M115 90.5h1M115 91.5h1M115 92.5h1M115 93.5h1M115 95.5h1M115 97.5h1M115 98.5h1M115 99.5h1M115 104.5h1M116 21.5h1M116 22.5h1M116 23.5h1M116 25.5h1M116 27.5h1M116 29.5h1M116 30.5h1M116 31.5h1M116 33.5h1M116 34.5h1M116 36.5h1M116 37.5h1M116 38.5h1M116 40.5h1M116 41.5h1M116 42.5h1M116 43.5h1M116 44.5h1M116 45.5h1M116 46.5h1M116 47.5h1M116 48.5h1M116 49.5h1M116 50.5h1M116 51.5h1M116 52.5h1M116 53.5h1M116 54.5h1M116 55.5h1M116 56.5h1M116 57.5h1M116 59.5h1M116 60.5h1M116 61.5h1M116 62.5h1M116 63.5h1M116 64.5h1M116 65.5h1M116 66.5h1M116 68.5h1M116 69.5h1M116 70.5h1M116 71.5h1M116 72.5h1M116 73.5h1M116 74.5h1M116 75.5h1M116 84.5h1M116 85.5h1M116 87.5h1M116 88.5h1M116 90.5h1M116 91.5h1M116 95.5h1M116 96.5h1M116 97.5h1M116 100.5h1M116 107.5h1M117 21.5h1M117 22.5h1M117 24.5h1M117 26.5h1M117 33.5h1M117 34.5h1M117 35.5h1M117 38.5h1M117 40.5h1M117 41.5h1M117 42.5h1M117 43.5h1M117 44.5h1M117 47.5h1M117 48.5h1M117 49.5h1M117 50.5h1M117 51.5h1M117 54.5h1M117 55.5h1M117 56.5h1M117 57.5h1M117 58.5h1M117 59.5h1M117 61.5h1M117 63.5h1M117 65.5h1M117 69.5h1M117 71.5h1M117 72.5h1M117 73.5h1M117 75.5h1M117 76.5h1M117 79.5h1M117 80.5h1M117 81.5h1M117 83.5h1M117 84.5h1M117 85.5h1M117 90.5h1M117 91.5h1M117 92.5h1M117 99.5h1M117 108.5h1M118 21.5h1M118 22.5h1M118 23.5h1M118 24.5h1M118 26.5h1M118 31.5h1M118 32.5h1M118 34.5h1M118 35.5h1M118 36.5h1M118 40.5h1M118 42.5h1M118 43.5h1M118 44.5h1M118 46.5h1M118 47.5h1M118 49.5h1M118 50.5h1M118 51.5h1M118 52.5h1M118 53.5h1M118 54.5h1M118 55.5h1M118 58.5h1M118 59.5h1M118 60.5h1M118 62.5h1M118 64.5h1M118 65.5h1M118 66.5h1M118 67.5h1M118 68.5h1M118 70.5h1M118 71.5h1M118 72.5h1M118 77.5h1M118 78.5h1M118 81.5h1M118 83.5h1M118 84.5h1M118 85.5h1M118 86.5h1M118 88.5h1M118 89.5h1M118 91.5h1M118 95.5h1M118 96.5h1M118 101.5h1M118 104.5h1M118 113.5h1M119 21.5h1M119 22.5h1M119 23.5h1M119 26.5h1M119 30.5h1M119 31.5h1M119 34.5h1M119 35.5h1M119 36.5h1M119 38.5h1M119 40.5h1M119 42.5h1M119 43.5h1M119 45.5h1M119 46.5h1M119 47.5h1M119 48.5h1M119 49.5h1M119 52.5h1M119 53.5h1M119 54.5h1M119 55.5h1M119 57.5h1M119 58.5h1M119 59.5h1M119 60.5h1M119 61.5h1M119 62.5h1M119 64.5h1M119 75.5h1M119 76.5h1M119 79.5h1M119 80.5h1M119 85.5h1M119 86.5h1M119 96.5h1M119 103.5h1M119 122.5h1M120 21.5h1M120 22.5h1M120 23.5h1M120 25.5h1M120 34.5h1M120 35.5h1M120 37.5h1M120 38.5h1M120 40.5h1M120 42.5h1M120 43.5h1M120 44.5h1M120 46.5h1M120 47.5h1M120 49.5h1M120 52.5h1M120 54.5h1M120 55.5h1M120 57.5h1M120 58.5h1M120 60.5h1M120 63.5h1M120 64.5h1M120 67.5h1M120 70.5h1M120 71.5h1M120 73.5h1M120 78.5h1M120 79.5h1M120 80.5h1M120 82.5h1M120 91.5h1M120 109.5h1M120 110.5h1M121 23.5h1M121 27.5h1M121 28.5h1M121 38.5h1M121 39.5h1M121 46.5h1M121 47.5h1M121 49.5h1M121 50.5h1M121 52.5h1M121 53.5h1M121 54.5h1M121 55.5h1M121 56.5h1M121 61.5h1M121 64.5h1M121 65.5h1M121 67.5h1M121 68.5h1M121 72.5h1M121 85.5h1M121 92.5h1M122 22.5h1M122 25.5h1M122 29.5h1M122 31.5h1M122 36.5h1M122 49.5h1M122 52.5h1M122 53.5h1M122 56.5h1M122 61.5h1M122 65.5h1M122 66.5h1M122 70.5h1M122 73.5h1M123 21.5h1M123 23.5h1M123 31.5h1M123 38.5h1M123 42.5h1M123 48.5h1M123 53.5h1M123 56.5h1M123 71.5h1M124 21.5h1M124 75.5h1M125 21.5h1M127 21.5h1M127 74.5h1M127 91.5h1M128 22.5h1M128 69.5h1M128 80.5h1M128 117.5h1M129 71.5h1M130 21.5h1M130 23.5h1M130 25.5h1M132 21.5h1M136 21.5h1" stroke="#4a4a4a" stroke-width="1" fill="none" filter="url(#soft)"/>
<path d="M100.8 24.9L124 24.9L124 71.2L113 109.6L88.4 112.8L84.2 108.6L84.2 104.3L89.5 83L97 51Z" fill="none" stroke="#000" stroke-width="2" stroke-linejoin="round"/>
<ellipse cx="72.4" cy="94.5" rx="7.5" ry="16" transform="rotate(8 72.4 94.5)" fill="none" stroke="#000" stroke-width="1.9"/>
<ellipse cx="52.2" cy="115.8" rx="19.5" ry="6.8" transform="rotate(-3 52.2 115.8)" fill="none" stroke="#000" stroke-width="1.9"/>
<text x="76.7" y="44.6" font-size="10.5" font-weight="bold" text-anchor="start" fill="#000" stroke="#000" stroke-width="0.18">R1</text>
<text x="59.7" y="67" font-size="10.5" font-weight="bold" text-anchor="start" fill="#000" stroke="#000" stroke-width="0.18">R2</text>
<text x="33.2" y="91.5" font-size="10.5" font-weight="bold" text-anchor="start" fill="#000" stroke="#000" stroke-width="0.18">R3</text>
<rect x="33.6" y="19.5" width="107" height="105" fill="none" stroke="#000" stroke-width="1.3"/>
<path d="M32.2 21.5V124.5" stroke="#000" stroke-width="1.6" stroke-dasharray="1.1 1.3" fill="none"/>
<path d="M33.6 124.5v2.9M41.7 124.5v1.8M46.4 124.5v1.8M49.7 124.5v1.8M52.3 124.5v1.8M54.4 124.5v1.8M56.2 124.5v1.8M57.8 124.5v1.8M59.1 124.5v1.8M60.4 124.5v2.9M68.4 124.5v1.8M73.1 124.5v1.8M76.5 124.5v1.8M79 124.5v1.8M81.2 124.5v1.8M83 124.5v1.8M84.5 124.5v1.8M85.9 124.5v1.8M87.1 124.5v2.9M95.2 124.5v1.8M99.9 124.5v1.8M103.2 124.5v1.8M105.8 124.5v1.8M107.9 124.5v1.8M109.7 124.5v1.8M111.3 124.5v1.8M112.6 124.5v1.8M113.8 124.5v2.9M121.9 124.5v1.8M126.6 124.5v1.8M130 124.5v1.8M132.5 124.5v1.8M134.7 124.5v1.8M136.5 124.5v1.8M138 124.5v1.8M139.4 124.5v1.8M140.6 124.5v2.9" stroke="#000" stroke-width="0.9" fill="none"/>
<text x="29" y="137.4" font-size="11" fill="#000" stroke="#000" stroke-width="0.25">10<tspan font-size="6.3" dx="1.3" dy="-4.6">0</tspan></text>
<text x="55.8" y="137.4" font-size="11" fill="#000" stroke="#000" stroke-width="0.25">10<tspan font-size="6.3" dx="1.3" dy="-4.6">1</tspan></text>
<text x="82.5" y="137.4" font-size="11" fill="#000" stroke="#000" stroke-width="0.25">10<tspan font-size="6.3" dx="1.3" dy="-4.6">2</tspan></text>
<text x="109.2" y="137.4" font-size="11" fill="#000" stroke="#000" stroke-width="0.25">10<tspan font-size="6.3" dx="1.3" dy="-4.6">3</tspan></text>
<text x="136" y="137.4" font-size="11" fill="#000" stroke="#000" stroke-width="0.25">10<tspan font-size="6.3" dx="1.3" dy="-4.6">4</tspan></text>
<text transform="translate(24.7 35.9) rotate(-90)" font-size="10.4" font-weight="normal" text-anchor="middle" dominant-baseline="central" fill="#000" stroke="#000" stroke-width="0.25">1023</text>
<text transform="translate(24.7 123) rotate(-90)" font-size="10.3" font-weight="normal" text-anchor="middle" dominant-baseline="central" fill="#000" stroke="#000" stroke-width="0.25">0</text>
<path d="M17.7 61.7V139.6H81" fill="none" stroke="#000" stroke-width="1.3"/>
<path d="M17.7 58.7L15.5 63.7L19.9 63.7Z" fill="#000"/>
<path d="M84 139.6L79 137.4L79 141.8Z" fill="#000"/>
<text transform="translate(7.9 102.8) rotate(-90)" font-size="11.3" font-weight="bold" text-anchor="middle" dominant-baseline="central" fill="#000" stroke="#000" stroke-width="0.3">Side Scatter</text>
<text x="27.8" y="151.8" font-size="10.5" font-weight="bold" text-anchor="start" fill="#000" stroke="#000" stroke-width="0.18">F4/80</text>
<path d="M167 61.7V139.6H508" fill="none" stroke="#000" stroke-width="1.3"/>
<path d="M167 58.7L164.8 63.7L169.2 63.7Z" fill="#000"/>
<path d="M511 139.6L506 137.4L506 141.8Z" fill="#000"/>
<text transform="translate(154.7 95.6) rotate(-90)" font-size="11" font-weight="bold" text-anchor="middle" dominant-baseline="central" fill="#000" stroke="#000" stroke-width="0.3">Counts</text>
<text x="305" y="152.1" font-size="11" font-weight="bold" text-anchor="start" fill="#000" stroke="#000" stroke-width="0.18">Folate-FITC</text>
<path d="M183.4 119.5L186 112L189 100L192 88L195.2 82.8L197 85L199.5 88.2L202 91L204.2 94.9L205.5 100L207 106.3L209 112L211 117.8L212 119.5Z" fill="#bababa" stroke="#000" stroke-width="1"/>
<path d="M183.4 119.5L183.9 118.6L184.4 118.5L185.0 117.9L185.5 116.0L186.0 115.5L186.5 114.8L187.0 116.1L187.5 115.2L187.9 113.7L188.4 113.8L188.9 114.5L189.4 111.9L189.9 113.4L190.4 113.6L190.8 110.9L191.3 113.1L191.8 113.4L192.3 109.8L192.8 110.9L193.2 111.0L193.7 111.1L194.2 109.0L194.7 110.5L195.2 110.8L195.7 109.2L196.2 107.5L196.7 106.6L197.2 106.5L197.7 108.0L198.2 107.9L198.7 104.7L199.2 106.8L199.7 105.2L200.2 103.3L200.7 103.4L201.2 102.0L201.7 102.4L202.2 100.9L202.7 101.9L203.2 102.6L203.7 98.9L204.2 98.9L204.7 98.5L205.2 97.8L205.7 98.2L206.2 98.8L206.6 99.1L207.1 99.1L207.6 99.4L208.1 97.3L208.6 99.2L209.0 98.1L209.5 100.1L210.0 100.6L210.5 97.6L211.0 99.8L211.5 100.1L212.0 99.1L212.5 97.0L213.0 99.1L213.5 97.6L214.0 99.3L214.5 96.6L215.0 99.3L215.5 97.0L216.0 98.2L216.5 100.4L217.0 99.3L217.5 100.4L218.0 98.3L218.4 100.4L218.9 100.6L219.3 101.5L219.8 104.3L220.2 106.1L220.7 106.8L221.2 105.7L221.6 108.2L222.1 109.7L222.6 109.5L223.1 110.6L223.6 111.1L224.0 112.7L224.5 115.2L225.0 113.6L225.4 115.5L225.9 113.9L226.3 114.2L226.8 116.4L227.2 116.5L227.7 115.6L228.1 116.2L228.6 117.1L229.0 117.3L229.5 116.9L230.0 117.6L230.4 117.8L230.9 117.6L231.3 117.1L231.8 117.5L232.2 117.8L232.7 117.7L233.1 117.6L233.6 118.3L234.0 117.8L234.5 118.1L234.9 118.5L235.4 118.0L235.8 118.0L236.3 118.1L236.7 118.7L237.2 118.7L237.7 118.4L238.1 118.5L238.6 118.9L239.0 118.6L239.5 119.0L240.0 118.9L240.4 118.9L240.9 119.0L241.3 119.0L241.8 119.1L242.2 119.1L242.7 119.2L243.2 119.3L243.6 119.3L244.1 119.4L244.5 119.4L245.0 119.5" fill="none" stroke="#000" stroke-width="2.4" stroke-linejoin="miter"/>
<path d="M212.5 75H270.5M212.5 72v6M270.5 72v6" stroke="#000" stroke-width="1.4" fill="none"/>
<text x="248.2" y="69.3" font-size="10" font-weight="bold" text-anchor="start" fill="#383838" stroke="#383838" stroke-width="0.18">M1</text>
<text x="236.3" y="87.9" font-size="10.5" font-weight="bold" text-anchor="start" fill="#000" stroke="#000" stroke-width="0.18">32.4%</text>
<text x="214.5" y="48" font-size="10.5" font-weight="bold" text-anchor="start" fill="#000" stroke="#000" stroke-width="0.18">R1</text>
<path d="M182.5 46.9V119.4H272.3" fill="none" stroke="#000" stroke-width="1.4"/>
<path d="M182.5 46.9h-2.5M182.5 65h-2.5M182.5 83.2h-2.5M182.5 101.3h-2.5M182.5 119.4h-2.5" stroke="#000" stroke-width="1" fill="none"/>
<path d="M182.5 119.4v2.6M189.3 119.4v1.6M193.2 119.4v1.6M196 119.4v1.6M198.2 119.4v1.6M200 119.4v1.6M201.5 119.4v1.6M202.8 119.4v1.6M203.9 119.4v1.6M204.9 119.4v2.6M211.7 119.4v1.6M215.7 119.4v1.6M218.5 119.4v1.6M220.6 119.4v1.6M222.4 119.4v1.6M223.9 119.4v1.6M225.2 119.4v1.6M226.4 119.4v1.6M227.4 119.4v2.6M234.2 119.4v1.6M238.1 119.4v1.6M240.9 119.4v1.6M243.1 119.4v1.6M244.9 119.4v1.6M246.4 119.4v1.6M247.7 119.4v1.6M248.8 119.4v1.6M249.9 119.4v2.6M256.6 119.4v1.6M260.6 119.4v1.6M263.4 119.4v1.6M265.5 119.4v1.6M267.3 119.4v1.6M268.8 119.4v1.6M270.1 119.4v1.6M271.3 119.4v1.6M272.3 119.4v2.6" stroke="#000" stroke-width="0.8" fill="none"/>
<text x="177.9" y="132.6" font-size="11" fill="#000" stroke="#000" stroke-width="0.25">10<tspan font-size="6.3" dx="1.3" dy="-4.6">0</tspan></text>
<text x="200.3" y="132.6" font-size="11" fill="#000" stroke="#000" stroke-width="0.25">10<tspan font-size="6.3" dx="1.3" dy="-4.6">1</tspan></text>
<text x="222.8" y="132.6" font-size="11" fill="#000" stroke="#000" stroke-width="0.25">10<tspan font-size="6.3" dx="1.3" dy="-4.6">2</tspan></text>
<text x="245.3" y="132.6" font-size="11" fill="#000" stroke="#000" stroke-width="0.25">10<tspan font-size="6.3" dx="1.3" dy="-4.6">3</tspan></text>
<text x="267.7" y="132.6" font-size="11" fill="#000" stroke="#000" stroke-width="0.25">10<tspan font-size="6.3" dx="1.3" dy="-4.6">4</tspan></text>
<text transform="translate(173.2 47.2) rotate(-90)" font-size="10.3" font-weight="normal" text-anchor="middle" dominant-baseline="central" fill="#000" stroke="#000" stroke-width="0.25">64</text>
<text transform="translate(173.2 119.6) rotate(-90)" font-size="10.3" font-weight="normal" text-anchor="middle" dominant-baseline="central" fill="#000" stroke="#000" stroke-width="0.25">0</text>
<path d="M301 119.5L302 105L304 88L305 86L306 92L307 100L308.5 110L310 119.5Z" fill="#bababa" stroke="#000" stroke-width="1"/>
<path d="M300.5 119.5L300.6 74.5L301.5 72.2L302.0 75.9L302.5 79.7L303.0 77.3L303.5 76.4L304.1 75.5L304.6 73.3L305.2 72.9L305.9 76.9L306.5 80.4L307.0 87.5L307.5 94.4L308.1 102.9L308.7 109.5L309.2 110.5L309.8 112.3L310.3 114.5L310.9 115.8L311.4 117.6L311.9 117.5L312.3 117.7L312.8 117.7L313.2 117.9L313.7 117.8L314.1 118.1L314.6 118.2L315.0 118.3L315.5 118.0L315.9 118.4L316.4 118.2L316.8 118.5L317.3 118.5L317.7 118.4L318.2 118.6L318.6 118.7L319.1 118.7L319.5 118.8L320.0 118.9L320.5 118.8L320.9 118.9L321.4 118.9L321.8 118.9L322.3 119.0L322.7 119.0L323.2 119.0L323.6 119.1L324.1 119.1L324.5 119.1L325.0 119.2L325.5 119.2L325.9 119.2L326.4 119.2L326.8 119.3L327.3 119.3L327.7 119.3L328.2 119.4L328.6 119.4L329.1 119.4L329.5 119.5L330.0 119.5Z" fill="#111" opacity="0.95"/>
<path d="M301 119.5L302 105L304 88L305 86L306 92L307 100L308.5 110L310 119.5Z" fill="#bababa"/>
<path d="M300.5 119.5L300.6 74.5L301.5 72.2L302.0 75.9L302.5 79.7L303.0 77.3L303.5 76.4L304.1 75.5L304.6 73.3L305.2 72.9L305.9 76.9L306.5 80.4L307.0 87.5L307.5 94.4L308.1 102.9L308.7 109.5L309.2 110.5L309.8 112.3L310.3 114.5L310.9 115.8L311.4 117.6L311.9 117.5L312.3 117.7L312.8 117.7L313.2 117.9L313.7 117.8L314.1 118.1L314.6 118.2L315.0 118.3L315.5 118.0L315.9 118.4L316.4 118.2L316.8 118.5L317.3 118.5L317.7 118.4L318.2 118.6L318.6 118.7L319.1 118.7L319.5 118.8L320.0 118.9L320.5 118.8L320.9 118.9L321.4 118.9L321.8 118.9L322.3 119.0L322.7 119.0L323.2 119.0L323.6 119.1L324.1 119.1L324.5 119.1L325.0 119.2L325.5 119.2L325.9 119.2L326.4 119.2L326.8 119.3L327.3 119.3L327.7 119.3L328.2 119.4L328.6 119.4L329.1 119.4L329.5 119.5L330.0 119.5" fill="none" stroke="#000" stroke-width="2.1" stroke-linejoin="miter"/>
<path d="M314.5 69.3H387.5M314.5 66.3v6M387.5 66.3v6" stroke="#000" stroke-width="1.4" fill="none"/>
<text x="365.7" y="63.7" font-size="10" font-weight="bold" text-anchor="start" fill="#383838" stroke="#383838" stroke-width="0.18">M1</text>
<text x="358.8" y="82.5" font-size="10.5" font-weight="bold" text-anchor="start" fill="#000" stroke="#000" stroke-width="0.18">0.0%</text>
<text x="329.5" y="48" font-size="10.5" font-weight="bold" text-anchor="start" fill="#000" stroke="#000" stroke-width="0.18">R2</text>
<path d="M300.5 46.9V119.4H389.5" fill="none" stroke="#000" stroke-width="1.4"/>
<path d="M300.5 46.9h-2.5M300.5 65h-2.5M300.5 83.2h-2.5M300.5 101.3h-2.5M300.5 119.4h-2.5" stroke="#000" stroke-width="1" fill="none"/>
<path d="M300.5 119.4v2.6M307.2 119.4v1.6M311.1 119.4v1.6M313.9 119.4v1.6M316.1 119.4v1.6M317.8 119.4v1.6M319.3 119.4v1.6M320.6 119.4v1.6M321.7 119.4v1.6M322.8 119.4v2.6M329.4 119.4v1.6M333.4 119.4v1.6M336.1 119.4v1.6M338.3 119.4v1.6M340.1 119.4v1.6M341.6 119.4v1.6M342.8 119.4v1.6M344 119.4v1.6M345 119.4v2.6M351.7 119.4v1.6M355.6 119.4v1.6M358.4 119.4v1.6M360.6 119.4v1.6M362.3 119.4v1.6M363.8 119.4v1.6M365.1 119.4v1.6M366.2 119.4v1.6M367.2 119.4v2.6M373.9 119.4v1.6M377.9 119.4v1.6M380.6 119.4v1.6M382.8 119.4v1.6M384.6 119.4v1.6M386.1 119.4v1.6M387.3 119.4v1.6M388.5 119.4v1.6M389.5 119.4v2.6" stroke="#000" stroke-width="0.8" fill="none"/>
<text x="295.9" y="132.6" font-size="11" fill="#000" stroke="#000" stroke-width="0.25">10<tspan font-size="6.3" dx="1.3" dy="-4.6">0</tspan></text>
<text x="318.1" y="132.6" font-size="11" fill="#000" stroke="#000" stroke-width="0.25">10<tspan font-size="6.3" dx="1.3" dy="-4.6">1</tspan></text>
<text x="340.4" y="132.6" font-size="11" fill="#000" stroke="#000" stroke-width="0.25">10<tspan font-size="6.3" dx="1.3" dy="-4.6">2</tspan></text>
<text x="362.6" y="132.6" font-size="11" fill="#000" stroke="#000" stroke-width="0.25">10<tspan font-size="6.3" dx="1.3" dy="-4.6">3</tspan></text>
<text x="384.9" y="132.6" font-size="11" fill="#000" stroke="#000" stroke-width="0.25">10<tspan font-size="6.3" dx="1.3" dy="-4.6">4</tspan></text>
<text transform="translate(291.2 47.2) rotate(-90)" font-size="10.3" font-weight="normal" text-anchor="middle" dominant-baseline="central" fill="#000" stroke="#000" stroke-width="0.25">32</text>
<text transform="translate(291.2 119.6) rotate(-90)" font-size="10.3" font-weight="normal" text-anchor="middle" dominant-baseline="central" fill="#000" stroke="#000" stroke-width="0.25">0</text>
<path d="M418 119.5L418 105L420 110L422 116L424 119.5Z" fill="#bababa" stroke="#000" stroke-width="1"/>
<path d="M417.8 119.4L418.0 64.6L418.6 66.3L418.9 79.9L419.4 90.7L419.9 93.4L420.3 96.4L420.8 98.5L421.3 100.0L421.8 102.6L422.4 104.6L423.0 107.0L423.5 109.4L423.9 109.9L424.4 112.7L424.9 112.5L425.4 113.7L426.0 115.1L426.5 115.0L427.0 115.8L427.5 115.9L428.0 116.1L428.5 117.0L429.0 116.7L429.5 117.1L429.9 117.5L430.4 117.2L430.8 117.6L431.3 117.6L431.7 117.9L432.2 118.1L432.6 118.0L433.1 118.2L433.5 118.3L434.0 118.6L434.5 118.6L434.9 118.6L435.4 118.7L435.8 118.7L436.3 118.8L436.8 118.9L437.2 119.0L437.7 119.1L438.2 119.1L438.6 119.2L439.1 119.3L439.5 119.3L440.0 119.4Z" fill="#111" opacity="0.95"/>
<path d="M418 119.5L418 105L420 110L422 116L424 119.5Z" fill="#bababa"/>
<path d="M417.8 119.4L418.0 64.6L418.6 66.3L418.9 79.9L419.4 90.7L419.9 93.4L420.3 96.4L420.8 98.5L421.3 100.0L421.8 102.6L422.4 104.6L423.0 107.0L423.5 109.4L423.9 109.9L424.4 112.7L424.9 112.5L425.4 113.7L426.0 115.1L426.5 115.0L427.0 115.8L427.5 115.9L428.0 116.1L428.5 117.0L429.0 116.7L429.5 117.1L429.9 117.5L430.4 117.2L430.8 117.6L431.3 117.6L431.7 117.9L432.2 118.1L432.6 118.0L433.1 118.2L433.5 118.3L434.0 118.6L434.5 118.6L434.9 118.6L435.4 118.7L435.8 118.7L436.3 118.8L436.8 118.9L437.2 119.0L437.7 119.1L438.2 119.1L438.6 119.2L439.1 119.3L439.5 119.3L440.0 119.4" fill="none" stroke="#000" stroke-width="1.6" stroke-linejoin="miter"/>
<path d="M429.5 70.8H505.5M429.5 67.8v6M505.5 67.8v6" stroke="#000" stroke-width="1.4" fill="none"/>
<text x="483.7" y="66" font-size="10" font-weight="bold" text-anchor="start" fill="#383838" stroke="#383838" stroke-width="0.18">M1</text>
<text x="482" y="84.5" font-size="10.5" font-weight="bold" text-anchor="start" fill="#000" stroke="#000" stroke-width="0.18">0.0%</text>
<text x="432" y="48" font-size="10.5" font-weight="bold" text-anchor="start" fill="#000" stroke="#000" stroke-width="0.18">R3</text>
<path d="M418.4 46.9V119.4H507.5" fill="none" stroke="#000" stroke-width="1.4"/>
<path d="M418.4 46.9h-2.5M418.4 65h-2.5M418.4 83.2h-2.5M418.4 101.3h-2.5M418.4 119.4h-2.5" stroke="#000" stroke-width="1" fill="none"/>
<path d="M418.4 119.4v2.6M425.1 119.4v1.6M429 119.4v1.6M431.8 119.4v1.6M434 119.4v1.6M435.7 119.4v1.6M437.2 119.4v1.6M438.5 119.4v1.6M439.7 119.4v1.6M440.7 119.4v2.6M447.4 119.4v1.6M451.3 119.4v1.6M454.1 119.4v1.6M456.2 119.4v1.6M458 119.4v1.6M459.5 119.4v1.6M460.8 119.4v1.6M461.9 119.4v1.6M462.9 119.4v2.6M469.7 119.4v1.6M473.6 119.4v1.6M476.4 119.4v1.6M478.5 119.4v1.6M480.3 119.4v1.6M481.8 119.4v1.6M483.1 119.4v1.6M484.2 119.4v1.6M485.2 119.4v2.6M491.9 119.4v1.6M495.9 119.4v1.6M498.6 119.4v1.6M500.8 119.4v1.6M502.6 119.4v1.6M504 119.4v1.6M505.3 119.4v1.6M506.5 119.4v1.6M507.5 119.4v2.6" stroke="#000" stroke-width="0.8" fill="none"/>
<text x="413.8" y="132.6" font-size="11" fill="#000" stroke="#000" stroke-width="0.25">10<tspan font-size="6.3" dx="1.3" dy="-4.6">0</tspan></text>
<text x="436.1" y="132.6" font-size="11" fill="#000" stroke="#000" stroke-width="0.25">10<tspan font-size="6.3" dx="1.3" dy="-4.6">1</tspan></text>
<text x="458.3" y="132.6" font-size="11" fill="#000" stroke="#000" stroke-width="0.25">10<tspan font-size="6.3" dx="1.3" dy="-4.6">2</tspan></text>
<text x="480.6" y="132.6" font-size="11" fill="#000" stroke="#000" stroke-width="0.25">10<tspan font-size="6.3" dx="1.3" dy="-4.6">3</tspan></text>
<text x="502.9" y="132.6" font-size="11" fill="#000" stroke="#000" stroke-width="0.25">10<tspan font-size="6.3" dx="1.3" dy="-4.6">4</tspan></text>
<text transform="translate(409.1 47.2) rotate(-90)" font-size="10.3" font-weight="normal" text-anchor="middle" dominant-baseline="central" fill="#000" stroke="#000" stroke-width="0.25">16</text>
<text transform="translate(409.1 119.6) rotate(-90)" font-size="10.3" font-weight="normal" text-anchor="middle" dominant-baseline="central" fill="#000" stroke="#000" stroke-width="0.25">0</text>
<text x="0.2" y="183.9" font-size="16.3" font-weight="bold" text-anchor="start" fill="#000" stroke="#000" stroke-width="0.18">B</text>
<text x="18.6" y="181.5" font-size="12.2" font-weight="bold" text-anchor="start" fill="#000" stroke="#000" stroke-width="0.18">Bacteria-recruited cells</text>
<path d="M35 230.5h1M35 255.5h1M35 256.5h1M35 261.5h1M35 268.5h1M35 269.5h1M35 278.5h1M35 280.5h1M35 281.5h1M35 282.5h1M35 283.5h1M35 284.5h1M35 285.5h1M35 286.5h1M35 287.5h1M35 288.5h1M35 291.5h1M35 293.5h1M35 295.5h1M35 296.5h1M36 262.5h1M36 265.5h1M36 269.5h1M36 271.5h1M36 272.5h1M36 279.5h1M36 280.5h1M36 281.5h1M36 283.5h1M36 284.5h1M36 287.5h1M36 289.5h1M36 290.5h1M36 291.5h1M36 294.5h1M37 258.5h1M37 260.5h1M37 262.5h1M37 263.5h1M37 264.5h1M37 265.5h1M37 266.5h1M37 268.5h1M37 270.5h1M37 273.5h1M37 278.5h1M37 279.5h1M37 282.5h1M37 283.5h1M37 285.5h1M37 286.5h1M37 287.5h1M37 288.5h1M37 289.5h1M37 290.5h1M37 291.5h1M37 294.5h1M37 295.5h1M37 296.5h1M38 255.5h1M38 257.5h1M38 259.5h1M38 260.5h1M38 262.5h1M38 263.5h1M38 265.5h1M38 266.5h1M38 268.5h1M38 274.5h1M38 275.5h1M38 278.5h1M38 281.5h1M38 282.5h1M38 283.5h1M38 284.5h1M38 285.5h1M38 286.5h1M38 287.5h1M38 288.5h1M38 289.5h1M38 290.5h1M38 291.5h1M38 292.5h1M38 294.5h1M39 245.5h1M39 254.5h1M39 258.5h1M39 259.5h1M39 260.5h1M39 261.5h1M39 264.5h1M39 265.5h1M39 268.5h1M39 269.5h1M39 271.5h1M39 274.5h1M39 275.5h1M39 280.5h1M39 281.5h1M39 282.5h1M39 283.5h1M39 284.5h1M39 285.5h1M39 286.5h1M39 287.5h1M39 288.5h1M39 289.5h1M39 290.5h1M39 291.5h1M39 292.5h1M39 293.5h1M39 294.5h1M40 249.5h1M40 251.5h1M40 254.5h1M40 256.5h1M40 257.5h1M40 258.5h1M40 259.5h1M40 261.5h1M40 262.5h1M40 263.5h1M40 264.5h1M40 265.5h1M40 266.5h1M40 267.5h1M40 268.5h1M40 269.5h1M40 270.5h1M40 271.5h1M40 273.5h1M40 276.5h1M40 278.5h1M40 280.5h1M40 281.5h1M40 282.5h1M40 284.5h1M40 285.5h1M40 287.5h1M40 288.5h1M40 291.5h1M40 293.5h1M40 294.5h1M40 295.5h1M41 256.5h1M41 258.5h1M41 259.5h1M41 261.5h1M41 262.5h1M41 263.5h1M41 264.5h1M41 265.5h1M41 266.5h1M41 268.5h1M41 269.5h1M41 270.5h1M41 272.5h1M41 274.5h1M41 275.5h1M41 276.5h1M41 278.5h1M41 279.5h1M41 281.5h1M41 282.5h1M41 283.5h1M41 284.5h1M41 286.5h1M41 287.5h1M41 288.5h1M41 289.5h1M41 290.5h1M41 291.5h1M41 293.5h1M41 294.5h1M41 295.5h1M42 243.5h1M42 254.5h1M42 257.5h1M42 258.5h1M42 260.5h1M42 261.5h1M42 262.5h1M42 263.5h1M42 264.5h1M42 265.5h1M42 266.5h1M42 268.5h1M42 269.5h1M42 270.5h1M42 271.5h1M42 272.5h1M42 275.5h1M42 276.5h1M42 277.5h1M42 278.5h1M42 280.5h1M42 282.5h1M42 283.5h1M42 285.5h1M42 287.5h1M42 288.5h1M42 289.5h1M42 290.5h1M42 292.5h1M42 295.5h1M42 296.5h1M43 252.5h1M43 255.5h1M43 256.5h1M43 257.5h1M43 258.5h1M43 259.5h1M43 260.5h1M43 261.5h1M43 262.5h1M43 263.5h1M43 264.5h1M43 265.5h1M43 266.5h1M43 268.5h1M43 270.5h1M43 271.5h1M43 272.5h1M43 274.5h1M43 277.5h1M43 278.5h1M43 281.5h1M43 282.5h1M43 283.5h1M43 284.5h1M43 285.5h1M43 286.5h1M43 287.5h1M43 288.5h1M43 290.5h1M43 291.5h1M43 292.5h1M43 296.5h1M44 246.5h1M44 254.5h1M44 255.5h1M44 256.5h1M44 258.5h1M44 259.5h1M44 260.5h1M44 261.5h1M44 262.5h1M44 263.5h1M44 264.5h1M44 265.5h1M44 266.5h1M44 267.5h1M44 268.5h1M44 269.5h1M44 270.5h1M44 271.5h1M44 274.5h1M44 275.5h1M44 278.5h1M44 279.5h1M44 281.5h1M44 282.5h1M44 283.5h1M44 284.5h1M44 285.5h1M44 286.5h1M44 287.5h1M44 288.5h1M44 289.5h1M44 290.5h1M44 293.5h1M44 295.5h1M45 243.5h1M45 249.5h1M45 250.5h1M45 252.5h1M45 255.5h1M45 256.5h1M45 258.5h1M45 259.5h1M45 260.5h1M45 261.5h1M45 262.5h1M45 263.5h1M45 264.5h1M45 265.5h1M45 266.5h1M45 267.5h1M45 268.5h1M45 269.5h1M45 270.5h1M45 271.5h1M45 272.5h1M45 273.5h1M45 274.5h1M45 276.5h1M45 277.5h1M45 278.5h1M45 279.5h1M45 280.5h1M45 282.5h1M45 285.5h1M45 286.5h1M45 287.5h1M45 290.5h1M45 291.5h1M45 292.5h1M45 293.5h1M45 294.5h1M46 245.5h1M46 251.5h1M46 255.5h1M46 256.5h1M46 258.5h1M46 259.5h1M46 260.5h1M46 261.5h1M46 262.5h1M46 263.5h1M46 264.5h1M46 265.5h1M46 266.5h1M46 267.5h1M46 268.5h1M46 269.5h1M46 272.5h1M46 273.5h1M46 274.5h1M46 275.5h1M46 280.5h1M46 281.5h1M46 282.5h1M46 283.5h1M46 285.5h1M46 286.5h1M46 287.5h1M46 288.5h1M46 289.5h1M46 290.5h1M46 291.5h1M46 292.5h1M46 293.5h1M46 294.5h1M46 295.5h1M46 296.5h1M47 251.5h1M47 252.5h1M47 253.5h1M47 254.5h1M47 256.5h1M47 257.5h1M47 258.5h1M47 259.5h1M47 260.5h1M47 261.5h1M47 262.5h1M47 263.5h1M47 265.5h1M47 266.5h1M47 268.5h1M47 269.5h1M47 270.5h1M47 271.5h1M47 272.5h1M47 273.5h1M47 274.5h1M47 276.5h1M47 277.5h1M47 278.5h1M47 279.5h1M47 280.5h1M47 283.5h1M47 284.5h1M47 285.5h1M47 287.5h1M47 289.5h1M47 290.5h1M47 291.5h1M47 292.5h1M47 293.5h1M47 294.5h1M47 295.5h1M48 254.5h1M48 255.5h1M48 256.5h1M48 257.5h1M48 258.5h1M48 259.5h1M48 260.5h1M48 261.5h1M48 262.5h1M48 263.5h1M48 264.5h1M48 265.5h1M48 266.5h1M48 267.5h1M48 268.5h1M48 269.5h1M48 270.5h1M48 271.5h1M48 272.5h1M48 273.5h1M48 274.5h1M48 275.5h1M48 276.5h1M48 277.5h1M48 278.5h1M48 279.5h1M48 280.5h1M48 281.5h1M48 282.5h1M48 283.5h1M48 284.5h1M48 285.5h1M48 286.5h1M48 288.5h1M48 289.5h1M48 290.5h1M48 294.5h1M48 295.5h1M49 250.5h1M49 252.5h1M49 254.5h1M49 255.5h1M49 257.5h1M49 258.5h1M49 259.5h1M49 260.5h1M49 261.5h1M49 262.5h1M49 263.5h1M49 265.5h1M49 266.5h1M49 267.5h1M49 268.5h1M49 269.5h1M49 270.5h1M49 271.5h1M49 272.5h1M49 273.5h1M49 274.5h1M49 278.5h1M49 279.5h1M49 281.5h1M49 282.5h1M49 284.5h1M49 285.5h1M49 286.5h1M49 287.5h1M49 288.5h1M49 289.5h1M49 291.5h1M49 292.5h1M49 293.5h1M49 294.5h1M50 236.5h1M50 252.5h1M50 254.5h1M50 256.5h1M50 257.5h1M50 258.5h1M50 259.5h1M50 260.5h1M50 261.5h1M50 262.5h1M50 263.5h1M50 264.5h1M50 265.5h1M50 267.5h1M50 268.5h1M50 269.5h1M50 270.5h1M50 271.5h1M50 273.5h1M50 274.5h1M50 275.5h1M50 276.5h1M50 277.5h1M50 278.5h1M50 279.5h1M50 280.5h1M50 281.5h1M50 282.5h1M50 284.5h1M50 285.5h1M50 287.5h1M50 288.5h1M50 289.5h1M50 290.5h1M50 291.5h1M50 294.5h1M50 295.5h1M51 255.5h1M51 256.5h1M51 257.5h1M51 258.5h1M51 259.5h1M51 260.5h1M51 261.5h1M51 263.5h1M51 264.5h1M51 265.5h1M51 266.5h1M51 267.5h1M51 268.5h1M51 269.5h1M51 271.5h1M51 274.5h1M51 279.5h1M51 280.5h1M51 283.5h1M51 284.5h1M51 286.5h1M51 287.5h1M51 288.5h1M51 289.5h1M51 292.5h1M51 293.5h1M51 294.5h1M51 296.5h1M52 255.5h1M52 256.5h1M52 257.5h1M52 258.5h1M52 260.5h1M52 261.5h1M52 262.5h1M52 263.5h1M52 264.5h1M52 265.5h1M52 266.5h1M52 267.5h1M52 268.5h1M52 269.5h1M52 270.5h1M52 272.5h1M52 275.5h1M52 276.5h1M52 277.5h1M52 278.5h1M52 280.5h1M52 282.5h1M52 283.5h1M52 284.5h1M52 289.5h1M52 290.5h1M52 295.5h1M52 296.5h1M53 249.5h1M53 251.5h1M53 254.5h1M53 256.5h1M53 258.5h1M53 259.5h1M53 260.5h1M53 261.5h1M53 262.5h1M53 263.5h1M53 264.5h1M53 265.5h1M53 266.5h1M53 267.5h1M53 268.5h1M53 269.5h1M53 270.5h1M53 271.5h1M53 273.5h1M53 274.5h1M53 275.5h1M53 276.5h1M53 277.5h1M53 278.5h1M53 279.5h1M53 280.5h1M53 281.5h1M53 283.5h1M53 284.5h1M53 286.5h1M53 291.5h1M54 252.5h1M54 255.5h1M54 257.5h1M54 258.5h1M54 259.5h1M54 260.5h1M54 261.5h1M54 263.5h1M54 265.5h1M54 266.5h1M54 267.5h1M54 268.5h1M54 269.5h1M54 270.5h1M54 271.5h1M54 273.5h1M54 274.5h1M54 277.5h1M54 281.5h1M54 282.5h1M54 284.5h1M54 285.5h1M54 290.5h1M55 248.5h1M55 249.5h1M55 255.5h1M55 256.5h1M55 257.5h1M55 258.5h1M55 260.5h1M55 261.5h1M55 262.5h1M55 263.5h1M55 264.5h1M55 265.5h1M55 267.5h1M55 269.5h1M55 270.5h1M55 271.5h1M55 272.5h1M55 274.5h1M55 275.5h1M55 279.5h1M55 281.5h1M55 284.5h1M55 286.5h1M55 287.5h1M55 288.5h1M55 289.5h1M55 291.5h1M56 251.5h1M56 252.5h1M56 255.5h1M56 257.5h1M56 258.5h1M56 259.5h1M56 260.5h1M56 261.5h1M56 262.5h1M56 263.5h1M56 264.5h1M56 266.5h1M56 267.5h1M56 268.5h1M56 269.5h1M56 270.5h1M56 274.5h1M56 276.5h1M56 278.5h1M56 279.5h1M56 280.5h1M56 281.5h1M56 282.5h1M56 283.5h1M56 284.5h1M56 285.5h1M56 287.5h1M56 288.5h1M56 289.5h1M57 247.5h1M57 249.5h1M57 253.5h1M57 254.5h1M57 255.5h1M57 258.5h1M57 260.5h1M57 261.5h1M57 262.5h1M57 263.5h1M57 264.5h1M57 265.5h1M57 266.5h1M57 267.5h1M57 269.5h1M57 271.5h1M57 272.5h1M57 273.5h1M57 274.5h1M57 275.5h1M57 277.5h1M57 278.5h1M57 279.5h1M57 280.5h1M57 281.5h1M57 282.5h1M57 283.5h1M57 284.5h1M57 286.5h1M57 289.5h1M58 215.5h1M58 253.5h1M58 255.5h1M58 256.5h1M58 257.5h1M58 258.5h1M58 259.5h1M58 260.5h1M58 264.5h1M58 266.5h1M58 267.5h1M58 268.5h1M58 269.5h1M58 270.5h1M58 273.5h1M58 275.5h1M58 280.5h1M58 282.5h1M58 283.5h1M58 284.5h1M58 286.5h1M59 252.5h1M59 254.5h1M59 257.5h1M59 258.5h1M59 260.5h1M59 262.5h1M59 263.5h1M59 264.5h1M59 265.5h1M59 266.5h1M59 267.5h1M59 268.5h1M59 269.5h1M59 271.5h1M59 273.5h1M59 275.5h1M59 281.5h1M59 284.5h1M59 285.5h1M59 286.5h1M59 287.5h1M60 256.5h1M60 258.5h1M60 261.5h1M60 262.5h1M60 263.5h1M60 264.5h1M60 265.5h1M60 266.5h1M60 267.5h1M60 269.5h1M60 273.5h1M60 275.5h1M60 276.5h1M60 277.5h1M60 278.5h1M60 279.5h1M60 280.5h1M60 281.5h1M60 291.5h1M61 255.5h1M61 256.5h1M61 259.5h1M61 261.5h1M61 265.5h1M61 269.5h1M61 270.5h1M61 272.5h1M61 273.5h1M61 278.5h1M61 280.5h1M61 281.5h1M61 285.5h1M61 286.5h1M61 289.5h1M62 249.5h1M62 253.5h1M62 260.5h1M62 264.5h1M62 265.5h1M62 266.5h1M62 271.5h1M62 272.5h1M62 274.5h1M62 276.5h1M62 281.5h1M62 282.5h1M62 283.5h1M62 284.5h1M63 256.5h1M63 258.5h1M63 259.5h1M63 261.5h1M63 263.5h1M63 266.5h1M63 267.5h1M63 269.5h1M63 271.5h1M63 278.5h1M63 279.5h1M63 280.5h1M63 282.5h1M63 283.5h1M63 284.5h1M63 285.5h1M64 257.5h1M64 262.5h1M64 267.5h1M64 268.5h1M64 269.5h1M64 276.5h1M64 277.5h1M64 280.5h1M64 282.5h1M64 284.5h1M64 289.5h1M65 243.5h1M65 256.5h1M65 257.5h1M65 262.5h1M65 265.5h1M65 266.5h1M65 267.5h1M65 272.5h1M65 275.5h1M65 277.5h1M65 278.5h1M65 282.5h1M65 284.5h1M65 286.5h1M66 264.5h1M66 266.5h1M66 270.5h1M66 273.5h1M66 275.5h1M66 277.5h1M66 278.5h1M66 282.5h1M66 286.5h1M66 289.5h1M67 252.5h1M67 256.5h1M67 259.5h1M67 264.5h1M67 265.5h1M67 269.5h1M67 270.5h1M67 271.5h1M67 272.5h1M67 274.5h1M67 275.5h1M67 276.5h1M67 278.5h1M67 280.5h1M67 282.5h1M68 259.5h1M68 262.5h1M68 263.5h1M68 265.5h1M68 267.5h1M68 271.5h1M68 272.5h1M68 274.5h1M68 275.5h1M68 279.5h1M68 280.5h1M68 281.5h1M68 282.5h1M68 283.5h1M68 285.5h1M69 254.5h1M69 261.5h1M69 265.5h1M69 266.5h1M69 271.5h1M69 272.5h1M69 275.5h1M69 277.5h1M69 278.5h1M69 279.5h1M69 280.5h1M69 282.5h1M69 283.5h1M69 284.5h1M69 285.5h1M69 288.5h1M70 250.5h1M70 257.5h1M70 270.5h1M70 271.5h1M70 272.5h1M70 273.5h1M70 276.5h1M70 279.5h1M70 280.5h1M70 281.5h1M70 282.5h1M70 284.5h1M70 285.5h1M70 286.5h1M70 287.5h1M70 288.5h1M71 254.5h1M71 259.5h1M71 268.5h1M71 269.5h1M71 272.5h1M71 274.5h1M71 277.5h1M71 281.5h1M71 283.5h1M71 289.5h1M72 250.5h1M72 259.5h1M72 264.5h1M72 267.5h1M72 271.5h1M72 275.5h1M72 276.5h1M72 277.5h1M72 278.5h1M72 279.5h1M72 280.5h1M72 284.5h1M72 286.5h1M72 289.5h1M73 249.5h1M73 266.5h1M73 267.5h1M73 271.5h1M73 273.5h1M73 276.5h1M73 281.5h1M73 282.5h1M73 283.5h1M73 285.5h1M74 257.5h1M74 263.5h1M74 267.5h1M74 268.5h1M74 269.5h1M74 270.5h1M74 271.5h1M74 272.5h1M74 274.5h1M74 276.5h1M74 277.5h1M74 278.5h1M74 279.5h1M74 283.5h1M74 284.5h1M75 258.5h1M75 259.5h1M75 265.5h1M75 266.5h1M75 267.5h1M75 272.5h1M75 273.5h1M75 275.5h1M75 278.5h1M75 285.5h1M76 263.5h1M76 264.5h1M76 265.5h1M76 268.5h1M76 272.5h1M76 273.5h1M76 275.5h1M76 276.5h1M76 278.5h1M76 279.5h1M76 280.5h1M76 282.5h1M76 283.5h1M76 287.5h1M76 289.5h1M77 235.5h1M77 259.5h1M77 262.5h1M77 264.5h1M77 265.5h1M77 266.5h1M77 267.5h1M77 271.5h1M77 272.5h1M77 273.5h1M77 274.5h1M77 278.5h1M77 281.5h1M77 282.5h1M77 284.5h1M77 285.5h1M77 286.5h1M78 258.5h1M78 260.5h1M78 264.5h1M78 268.5h1M78 270.5h1M78 277.5h1M78 281.5h1M79 255.5h1M79 262.5h1M79 264.5h1M79 269.5h1M79 270.5h1M79 273.5h1M79 274.5h1M79 276.5h1M79 277.5h1M79 279.5h1M79 286.5h1M80 259.5h1M80 260.5h1M80 261.5h1M80 262.5h1M80 263.5h1M80 266.5h1M80 267.5h1M80 269.5h1M80 270.5h1M80 271.5h1M80 273.5h1M81 254.5h1M81 258.5h1M81 259.5h1M81 260.5h1M81 261.5h1M81 264.5h1M81 265.5h1M81 266.5h1M81 267.5h1M81 268.5h1M81 269.5h1M81 271.5h1M81 272.5h1M81 274.5h1M81 278.5h1M81 282.5h1M81 283.5h1M82 252.5h1M82 259.5h1M82 261.5h1M82 262.5h1M82 263.5h1M82 265.5h1M82 266.5h1M82 267.5h1M82 268.5h1M82 269.5h1M82 270.5h1M82 276.5h1M83 200.5h1M83 257.5h1M83 258.5h1M83 259.5h1M83 261.5h1M83 262.5h1M83 263.5h1M83 264.5h1M83 265.5h1M83 266.5h1M83 267.5h1M83 268.5h1M83 270.5h1M83 271.5h1M83 272.5h1M83 275.5h1M84 253.5h1M84 259.5h1M84 260.5h1M84 261.5h1M84 264.5h1M84 265.5h1M84 266.5h1M84 267.5h1M84 269.5h1M84 273.5h1M85 206.5h1M85 226.5h1M85 254.5h1M85 255.5h1M85 257.5h1M85 261.5h1M85 262.5h1M85 263.5h1M85 264.5h1M85 265.5h1M85 266.5h1M85 267.5h1M85 268.5h1M85 269.5h1M85 270.5h1M85 271.5h1M85 274.5h1M86 255.5h1M86 256.5h1M86 257.5h1M86 258.5h1M86 260.5h1M86 261.5h1M86 262.5h1M86 263.5h1M86 264.5h1M86 265.5h1M86 266.5h1M86 267.5h1M86 269.5h1M86 271.5h1M87 252.5h1M87 255.5h1M87 259.5h1M87 260.5h1M87 261.5h1M87 262.5h1M87 263.5h1M87 264.5h1M87 265.5h1M87 266.5h1M87 267.5h1M87 268.5h1M87 269.5h1M87 270.5h1M88 252.5h1M88 253.5h1M88 255.5h1M88 257.5h1M88 258.5h1M88 259.5h1M88 260.5h1M88 261.5h1M88 262.5h1M88 264.5h1M88 266.5h1M88 267.5h1M88 269.5h1M88 275.5h1M89 243.5h1M89 248.5h1M89 250.5h1M89 251.5h1M89 254.5h1M89 255.5h1M89 256.5h1M89 258.5h1M89 259.5h1M89 260.5h1M89 261.5h1M89 262.5h1M89 263.5h1M89 264.5h1M89 265.5h1M89 266.5h1M89 269.5h1M90 242.5h1M90 245.5h1M90 250.5h1M90 251.5h1M90 252.5h1M90 254.5h1M90 255.5h1M90 256.5h1M90 257.5h1M90 258.5h1M90 259.5h1M90 260.5h1M90 261.5h1M90 262.5h1M90 263.5h1M90 265.5h1M90 266.5h1M90 270.5h1M91 249.5h1M91 250.5h1M91 251.5h1M91 252.5h1M91 253.5h1M91 254.5h1M91 258.5h1M91 260.5h1M91 261.5h1M91 262.5h1M91 263.5h1M91 264.5h1M91 265.5h1M91 266.5h1M91 267.5h1M91 268.5h1M91 269.5h1M91 271.5h1M92 247.5h1M92 249.5h1M92 251.5h1M92 253.5h1M92 254.5h1M92 255.5h1M92 256.5h1M92 257.5h1M92 258.5h1M92 259.5h1M92 260.5h1M92 261.5h1M92 263.5h1M92 264.5h1M92 265.5h1M92 268.5h1M92 275.5h1M92 292.5h1M93 240.5h1M93 248.5h1M93 249.5h1M93 251.5h1M93 253.5h1M93 254.5h1M93 255.5h1M93 256.5h1M93 258.5h1M93 259.5h1M93 260.5h1M93 261.5h1M93 262.5h1M93 264.5h1M93 265.5h1M93 268.5h1M93 269.5h1M93 270.5h1M94 245.5h1M94 247.5h1M94 249.5h1M94 250.5h1M94 251.5h1M94 252.5h1M94 254.5h1M94 255.5h1M94 256.5h1M94 257.5h1M94 258.5h1M94 259.5h1M94 260.5h1M94 261.5h1M94 262.5h1M94 278.5h1M94 294.5h1M95 244.5h1M95 245.5h1M95 247.5h1M95 248.5h1M95 249.5h1M95 250.5h1M95 252.5h1M95 253.5h1M95 254.5h1M95 255.5h1M95 256.5h1M95 257.5h1M95 258.5h1M95 259.5h1M95 260.5h1M95 261.5h1M95 264.5h1M95 266.5h1M95 268.5h1M95 272.5h1M96 243.5h1M96 244.5h1M96 246.5h1M96 247.5h1M96 249.5h1M96 250.5h1M96 251.5h1M96 252.5h1M96 253.5h1M96 254.5h1M96 255.5h1M96 256.5h1M96 257.5h1M96 258.5h1M96 259.5h1M96 262.5h1M96 265.5h1M96 266.5h1M97 241.5h1M97 243.5h1M97 244.5h1M97 246.5h1M97 248.5h1M97 249.5h1M97 250.5h1M97 251.5h1M97 253.5h1M97 255.5h1M97 256.5h1M97 257.5h1M97 258.5h1M97 259.5h1M97 260.5h1M97 261.5h1M97 263.5h1M98 242.5h1M98 247.5h1M98 248.5h1M98 250.5h1M98 251.5h1M98 252.5h1M98 254.5h1M98 257.5h1M98 258.5h1M98 259.5h1M98 260.5h1M98 261.5h1M98 262.5h1M98 263.5h1M99 242.5h1M99 243.5h1M99 246.5h1M99 247.5h1M99 248.5h1M99 249.5h1M99 250.5h1M99 251.5h1M99 252.5h1M99 253.5h1M99 254.5h1M99 255.5h1M99 257.5h1M99 258.5h1M99 259.5h1M99 260.5h1M99 261.5h1M99 262.5h1M99 263.5h1M99 265.5h1M99 267.5h1M100 238.5h1M100 244.5h1M100 245.5h1M100 246.5h1M100 248.5h1M100 249.5h1M100 250.5h1M100 251.5h1M100 253.5h1M100 255.5h1M100 257.5h1M100 259.5h1M100 260.5h1M100 261.5h1M100 263.5h1M100 264.5h1M101 241.5h1M101 246.5h1M101 248.5h1M101 249.5h1M101 250.5h1M101 251.5h1M101 252.5h1M101 253.5h1M101 254.5h1M101 255.5h1M101 256.5h1M101 257.5h1M101 258.5h1M101 259.5h1M101 261.5h1M101 265.5h1M101 281.5h1M102 234.5h1M102 238.5h1M102 239.5h1M102 241.5h1M102 242.5h1M102 243.5h1M102 244.5h1M102 245.5h1M102 246.5h1M102 247.5h1M102 248.5h1M102 249.5h1M102 252.5h1M102 253.5h1M102 254.5h1M102 255.5h1M102 256.5h1M102 257.5h1M102 258.5h1M102 259.5h1M102 260.5h1M102 262.5h1M102 263.5h1M103 237.5h1M103 238.5h1M103 241.5h1M103 242.5h1M103 243.5h1M103 244.5h1M103 245.5h1M103 246.5h1M103 247.5h1M103 248.5h1M103 249.5h1M103 250.5h1M103 251.5h1M103 252.5h1M103 253.5h1M103 254.5h1M103 255.5h1M103 256.5h1M103 257.5h1M103 258.5h1M103 262.5h1M104 234.5h1M104 237.5h1M104 239.5h1M104 240.5h1M104 243.5h1M104 244.5h1M104 245.5h1M104 247.5h1M104 248.5h1M104 249.5h1M104 250.5h1M104 251.5h1M104 252.5h1M104 253.5h1M104 254.5h1M104 255.5h1M104 256.5h1M104 257.5h1M104 259.5h1M104 260.5h1M104 262.5h1M105 212.5h1M105 237.5h1M105 240.5h1M105 242.5h1M105 243.5h1M105 244.5h1M105 245.5h1M105 246.5h1M105 247.5h1M105 248.5h1M105 249.5h1M105 250.5h1M105 251.5h1M105 252.5h1M105 253.5h1M105 254.5h1M105 255.5h1M105 256.5h1M105 257.5h1M105 260.5h1M105 264.5h1M106 213.5h1M106 238.5h1M106 239.5h1M106 240.5h1M106 242.5h1M106 243.5h1M106 244.5h1M106 245.5h1M106 246.5h1M106 247.5h1M106 248.5h1M106 249.5h1M106 250.5h1M106 251.5h1M106 252.5h1M106 253.5h1M106 254.5h1M106 255.5h1M106 256.5h1M106 258.5h1M107 236.5h1M107 238.5h1M107 240.5h1M107 241.5h1M107 242.5h1M107 243.5h1M107 244.5h1M107 245.5h1M107 246.5h1M107 248.5h1M107 249.5h1M107 250.5h1M107 251.5h1M107 252.5h1M107 253.5h1M107 254.5h1M107 255.5h1M107 256.5h1M107 257.5h1M107 258.5h1M107 259.5h1M107 260.5h1M107 284.5h1M107 286.5h1M108 230.5h1M108 235.5h1M108 238.5h1M108 239.5h1M108 240.5h1M108 241.5h1M108 243.5h1M108 244.5h1M108 245.5h1M108 246.5h1M108 247.5h1M108 248.5h1M108 249.5h1M108 250.5h1M108 251.5h1M108 252.5h1M108 253.5h1M108 254.5h1M108 255.5h1M108 259.5h1M108 262.5h1M109 207.5h1M109 221.5h1M109 222.5h1M109 227.5h1M109 229.5h1M109 231.5h1M109 234.5h1M109 235.5h1M109 236.5h1M109 238.5h1M109 239.5h1M109 240.5h1M109 241.5h1M109 242.5h1M109 243.5h1M109 244.5h1M109 245.5h1M109 247.5h1M109 248.5h1M109 249.5h1M109 250.5h1M109 251.5h1M109 252.5h1M109 253.5h1M109 254.5h1M109 255.5h1M109 256.5h1M109 257.5h1M109 258.5h1M110 221.5h1M110 222.5h1M110 225.5h1M110 230.5h1M110 231.5h1M110 233.5h1M110 234.5h1M110 238.5h1M110 240.5h1M110 241.5h1M110 242.5h1M110 243.5h1M110 244.5h1M110 245.5h1M110 246.5h1M110 247.5h1M110 248.5h1M110 249.5h1M110 250.5h1M110 251.5h1M110 252.5h1M110 253.5h1M110 254.5h1M110 255.5h1M110 256.5h1M110 257.5h1M110 262.5h1M111 210.5h1M111 218.5h1M111 221.5h1M111 223.5h1M111 225.5h1M111 226.5h1M111 229.5h1M111 231.5h1M111 232.5h1M111 233.5h1M111 235.5h1M111 237.5h1M111 239.5h1M111 240.5h1M111 241.5h1M111 242.5h1M111 243.5h1M111 244.5h1M111 245.5h1M111 246.5h1M111 247.5h1M111 248.5h1M111 249.5h1M111 250.5h1M111 251.5h1M111 253.5h1M111 254.5h1M111 256.5h1M111 259.5h1M111 260.5h1M112 195.5h1M112 197.5h1M112 205.5h1M112 211.5h1M112 217.5h1M112 222.5h1M112 228.5h1M112 231.5h1M112 232.5h1M112 233.5h1M112 236.5h1M112 237.5h1M112 238.5h1M112 239.5h1M112 241.5h1M112 242.5h1M112 243.5h1M112 244.5h1M112 245.5h1M112 246.5h1M112 247.5h1M112 248.5h1M112 249.5h1M112 250.5h1M112 251.5h1M112 254.5h1M113 204.5h1M113 206.5h1M113 207.5h1M113 222.5h1M113 224.5h1M113 225.5h1M113 226.5h1M113 227.5h1M113 229.5h1M113 232.5h1M113 235.5h1M113 236.5h1M113 237.5h1M113 238.5h1M113 239.5h1M113 240.5h1M113 241.5h1M113 242.5h1M113 243.5h1M113 244.5h1M113 245.5h1M113 246.5h1M113 247.5h1M113 248.5h1M113 249.5h1M113 250.5h1M113 251.5h1M113 252.5h1M113 253.5h1M113 255.5h1M113 259.5h1M114 207.5h1M114 212.5h1M114 213.5h1M114 216.5h1M114 217.5h1M114 219.5h1M114 222.5h1M114 223.5h1M114 224.5h1M114 229.5h1M114 230.5h1M114 231.5h1M114 233.5h1M114 234.5h1M114 237.5h1M114 238.5h1M114 239.5h1M114 240.5h1M114 241.5h1M114 242.5h1M114 243.5h1M114 244.5h1M114 245.5h1M114 246.5h1M114 247.5h1M114 248.5h1M114 249.5h1M114 250.5h1M114 251.5h1M114 252.5h1M114 254.5h1M114 255.5h1M114 256.5h1M115 199.5h1M115 202.5h1M115 204.5h1M115 208.5h1M115 213.5h1M115 214.5h1M115 215.5h1M115 216.5h1M115 217.5h1M115 218.5h1M115 219.5h1M115 220.5h1M115 222.5h1M115 223.5h1M115 224.5h1M115 225.5h1M115 226.5h1M115 227.5h1M115 228.5h1M115 230.5h1M115 231.5h1M115 232.5h1M115 234.5h1M115 236.5h1M115 237.5h1M115 238.5h1M115 240.5h1M115 241.5h1M115 242.5h1M115 243.5h1M115 244.5h1M115 245.5h1M115 246.5h1M115 247.5h1M115 248.5h1M115 249.5h1M115 250.5h1M115 251.5h1M115 252.5h1M115 253.5h1M115 254.5h1M115 255.5h1M116 196.5h1M116 206.5h1M116 207.5h1M116 210.5h1M116 211.5h1M116 217.5h1M116 218.5h1M116 219.5h1M116 222.5h1M116 223.5h1M116 225.5h1M116 226.5h1M116 227.5h1M116 228.5h1M116 232.5h1M116 233.5h1M116 234.5h1M116 235.5h1M116 236.5h1M116 237.5h1M116 238.5h1M116 239.5h1M116 241.5h1M116 242.5h1M116 243.5h1M116 244.5h1M116 245.5h1M116 246.5h1M116 247.5h1M116 248.5h1M116 249.5h1M116 250.5h1M116 251.5h1M116 252.5h1M116 253.5h1M116 254.5h1M116 255.5h1M117 197.5h1M117 199.5h1M117 202.5h1M117 203.5h1M117 205.5h1M117 207.5h1M117 208.5h1M117 213.5h1M117 214.5h1M117 215.5h1M117 219.5h1M117 220.5h1M117 221.5h1M117 224.5h1M117 225.5h1M117 226.5h1M117 227.5h1M117 228.5h1M117 229.5h1M117 230.5h1M117 231.5h1M117 232.5h1M117 233.5h1M117 236.5h1M117 237.5h1M117 239.5h1M117 240.5h1M117 241.5h1M117 243.5h1M117 245.5h1M117 246.5h1M117 247.5h1M117 248.5h1M117 249.5h1M117 251.5h1M117 252.5h1M117 253.5h1M117 254.5h1M117 255.5h1M117 256.5h1M117 262.5h1M118 199.5h1M118 202.5h1M118 203.5h1M118 204.5h1M118 206.5h1M118 208.5h1M118 209.5h1M118 211.5h1M118 213.5h1M118 214.5h1M118 215.5h1M118 217.5h1M118 218.5h1M118 219.5h1M118 220.5h1M118 222.5h1M118 223.5h1M118 224.5h1M118 227.5h1M118 232.5h1M118 233.5h1M118 235.5h1M118 236.5h1M118 237.5h1M118 238.5h1M118 239.5h1M118 240.5h1M118 241.5h1M118 242.5h1M118 244.5h1M118 245.5h1M118 247.5h1M118 248.5h1M118 250.5h1M118 251.5h1M118 252.5h1M118 253.5h1M118 254.5h1M119 200.5h1M119 204.5h1M119 205.5h1M119 207.5h1M119 208.5h1M119 210.5h1M119 212.5h1M119 213.5h1M119 215.5h1M119 216.5h1M119 218.5h1M119 220.5h1M119 221.5h1M119 222.5h1M119 225.5h1M119 226.5h1M119 227.5h1M119 228.5h1M119 229.5h1M119 231.5h1M119 232.5h1M119 233.5h1M119 235.5h1M119 236.5h1M119 237.5h1M119 238.5h1M119 239.5h1M119 241.5h1M119 243.5h1M119 244.5h1M119 248.5h1M119 249.5h1M119 252.5h1M119 253.5h1M119 255.5h1M119 258.5h1M120 200.5h1M120 202.5h1M120 203.5h1M120 204.5h1M120 205.5h1M120 206.5h1M120 207.5h1M120 208.5h1M120 209.5h1M120 210.5h1M120 211.5h1M120 212.5h1M120 213.5h1M120 214.5h1M120 215.5h1M120 216.5h1M120 217.5h1M120 218.5h1M120 219.5h1M120 222.5h1M120 223.5h1M120 224.5h1M120 225.5h1M120 226.5h1M120 227.5h1M120 231.5h1M120 232.5h1M120 233.5h1M120 234.5h1M120 235.5h1M120 236.5h1M120 237.5h1M120 238.5h1M120 239.5h1M120 240.5h1M120 241.5h1M120 242.5h1M120 243.5h1M120 244.5h1M120 245.5h1M120 246.5h1M120 247.5h1M120 248.5h1M120 250.5h1M120 253.5h1M120 256.5h1M120 257.5h1M121 195.5h1M121 196.5h1M121 198.5h1M121 202.5h1M121 204.5h1M121 205.5h1M121 207.5h1M121 208.5h1M121 211.5h1M121 212.5h1M121 213.5h1M121 214.5h1M121 215.5h1M121 217.5h1M121 221.5h1M121 223.5h1M121 224.5h1M121 226.5h1M121 227.5h1M121 229.5h1M121 232.5h1M121 233.5h1M121 234.5h1M121 236.5h1M121 238.5h1M121 239.5h1M121 240.5h1M121 241.5h1M121 244.5h1M121 245.5h1M121 246.5h1M121 247.5h1M121 251.5h1M121 252.5h1M121 253.5h1M122 199.5h1M122 200.5h1M122 201.5h1M122 203.5h1M122 205.5h1M122 206.5h1M122 208.5h1M122 210.5h1M122 212.5h1M122 214.5h1M122 215.5h1M122 216.5h1M122 217.5h1M122 218.5h1M122 219.5h1M122 220.5h1M122 222.5h1M122 225.5h1M122 226.5h1M122 227.5h1M122 230.5h1M122 231.5h1M122 232.5h1M122 233.5h1M122 234.5h1M122 236.5h1M122 237.5h1M122 238.5h1M122 239.5h1M122 240.5h1M122 242.5h1M122 243.5h1M122 244.5h1M122 245.5h1M122 247.5h1M122 251.5h1M123 199.5h1M123 200.5h1M123 202.5h1M123 204.5h1M123 205.5h1M123 206.5h1M123 208.5h1M123 210.5h1M123 211.5h1M123 212.5h1M123 215.5h1M123 220.5h1M123 226.5h1M123 227.5h1M123 228.5h1M123 230.5h1M123 231.5h1M123 232.5h1M123 233.5h1M123 234.5h1M123 235.5h1M123 236.5h1M123 238.5h1M123 239.5h1M123 247.5h1M123 250.5h1M124 200.5h1M124 201.5h1M124 202.5h1M124 203.5h1M124 204.5h1M124 207.5h1M124 208.5h1M124 213.5h1M124 215.5h1M124 218.5h1M124 219.5h1M124 220.5h1M124 222.5h1M124 223.5h1M124 229.5h1M124 230.5h1M124 231.5h1M124 232.5h1M124 233.5h1M124 234.5h1M124 242.5h1M124 245.5h1M124 247.5h1M124 250.5h1M124 255.5h1M125 199.5h1M125 200.5h1M125 205.5h1M125 206.5h1M125 210.5h1M125 211.5h1M125 213.5h1M125 215.5h1M125 217.5h1M125 220.5h1M125 221.5h1M125 223.5h1M125 225.5h1M125 234.5h1M125 237.5h1M125 244.5h1M125 247.5h1M125 248.5h1M125 259.5h1M126 200.5h1M126 202.5h1M126 203.5h1M126 205.5h1M126 213.5h1M126 215.5h1M126 235.5h1M126 237.5h1M126 242.5h1M126 246.5h1M126 247.5h1M126 255.5h1M127 205.5h1M127 208.5h1M127 209.5h1M127 241.5h1M128 202.5h1M128 228.5h1M129 228.5h1M129 241.5h1M129 243.5h1M130 236.5h1M131 247.5h1M132 229.5h1M133 236.5h1M133 239.5h1M134 236.5h1M135 239.5h1" stroke="#4a4a4a" stroke-width="1" fill="none" filter="url(#soft)"/>
<path d="M114.3 194.7L129.7 194.7L121.3 258.5L73.1 274.3L73.5 265.8L105.8 233.1L109.4 216.2Z" fill="none" stroke="#000" stroke-width="2" stroke-linejoin="round"/>
<circle cx="48.8" cy="264.8" r="12" fill="none" stroke="#000" stroke-width="1.9"/>
<circle cx="44" cy="286" r="11" fill="none" stroke="#000" stroke-width="1.9"/>
<rect x="97.5" y="204.5" width="14" height="10" fill="#fff"/>
<text x="98" y="213" font-size="10.5" font-weight="bold" text-anchor="start" fill="#000" stroke="#000" stroke-width="0.18">R1</text>
<text x="41.9" y="246.8" font-size="10.5" font-weight="bold" text-anchor="start" fill="#000" stroke="#000" stroke-width="0.18">R2</text>
<text x="59.4" y="293.3" font-size="10.5" font-weight="bold" text-anchor="start" fill="#000" stroke="#000" stroke-width="0.18">R3</text>
<rect x="33.8" y="193.4" width="104.6" height="104.3" fill="none" stroke="#000" stroke-width="1.3"/>
<path d="M32.4 195.4V297.7" stroke="#000" stroke-width="1.6" stroke-dasharray="1.1 1.3" fill="none"/>
<path d="M33.8 297.7v2.9M41.7 297.7v1.8M46.3 297.7v1.8M49.5 297.7v1.8M52.1 297.7v1.8M54.1 297.7v1.8M55.9 297.7v1.8M57.4 297.7v1.8M58.8 297.7v1.8M60 297.7v2.9M67.8 297.7v1.8M72.4 297.7v1.8M75.7 297.7v1.8M78.2 297.7v1.8M80.3 297.7v1.8M82 297.7v1.8M83.6 297.7v1.8M84.9 297.7v1.8M86.1 297.7v2.9M94 297.7v1.8M98.6 297.7v1.8M101.8 297.7v1.8M104.4 297.7v1.8M106.4 297.7v1.8M108.2 297.7v1.8M109.7 297.7v1.8M111.1 297.7v1.8M112.2 297.7v2.9M120.1 297.7v1.8M124.7 297.7v1.8M128 297.7v1.8M130.5 297.7v1.8M132.6 297.7v1.8M134.3 297.7v1.8M135.9 297.7v1.8M137.2 297.7v1.8M138.4 297.7v2.9" stroke="#000" stroke-width="0.9" fill="none"/>
<text x="29.2" y="310.6" font-size="11" fill="#000" stroke="#000" stroke-width="0.25">10<tspan font-size="6.3" dx="1.3" dy="-4.6">0</tspan></text>
<text x="55.4" y="310.6" font-size="11" fill="#000" stroke="#000" stroke-width="0.25">10<tspan font-size="6.3" dx="1.3" dy="-4.6">1</tspan></text>
<text x="81.5" y="310.6" font-size="11" fill="#000" stroke="#000" stroke-width="0.25">10<tspan font-size="6.3" dx="1.3" dy="-4.6">2</tspan></text>
<text x="107.7" y="310.6" font-size="11" fill="#000" stroke="#000" stroke-width="0.25">10<tspan font-size="6.3" dx="1.3" dy="-4.6">3</tspan></text>
<text x="133.8" y="310.6" font-size="11" fill="#000" stroke="#000" stroke-width="0.25">10<tspan font-size="6.3" dx="1.3" dy="-4.6">4</tspan></text>
<text transform="translate(24.7 209.8) rotate(-90)" font-size="10.4" font-weight="normal" text-anchor="middle" dominant-baseline="central" fill="#000" stroke="#000" stroke-width="0.25">1023</text>
<text transform="translate(24.7 296.2) rotate(-90)" font-size="10.3" font-weight="normal" text-anchor="middle" dominant-baseline="central" fill="#000" stroke="#000" stroke-width="0.25">0</text>
<path d="M17.7 234.5V312H81" fill="none" stroke="#000" stroke-width="1.3"/>
<path d="M17.7 231.5L15.5 236.5L19.9 236.5Z" fill="#000"/>
<path d="M84 312L79 309.8L79 314.2Z" fill="#000"/>
<text transform="translate(7.9 270.3) rotate(-90)" font-size="11.3" font-weight="bold" text-anchor="middle" dominant-baseline="central" fill="#000" stroke="#000" stroke-width="0.3">Side Scatter</text>
<text x="27.8" y="324.5" font-size="10.5" font-weight="bold" text-anchor="start" fill="#000" stroke="#000" stroke-width="0.18">F4/80</text>
<path d="M167 234.5V312H508" fill="none" stroke="#000" stroke-width="1.3"/>
<path d="M167 231.5L164.8 236.5L169.2 236.5Z" fill="#000"/>
<path d="M511 312L506 309.8L506 314.2Z" fill="#000"/>
<text transform="translate(154.7 258.4) rotate(-90)" font-size="11" font-weight="bold" text-anchor="middle" dominant-baseline="central" fill="#000" stroke="#000" stroke-width="0.3">Counts</text>
<text x="306" y="324.7" font-size="11" font-weight="bold" text-anchor="start" fill="#000" stroke="#000" stroke-width="0.18">Folate-FITC</text>
<clipPath id="cpB0"><path d="M188.3 291.2L190.5 285L193 272L196 252L198 240L199.5 235.4L201 238L202.9 243.5L206.9 261L211 275.8L212.3 281L215 289.2L216 291Z"/></clipPath>
<path d="M188.3 291.2L190.5 285L193 272L196 252L198 240L199.5 235.4L201 238L202.9 243.5L206.9 261L211 275.8L212.3 281L215 289.2L216 291Z" fill="#cdcdcd" stroke="#000" stroke-width="1"/>
<path d="M189.5 291.2L190.0 289.4L190.5 288.3L191.0 286.3L191.5 284.4L192.0 281.2L192.6 281.6L193.1 280.2L193.7 275.8L194.2 275.5L194.7 274.5L195.2 272.2L195.7 269.9L196.2 266.9L196.7 268.0L197.2 264.9L197.7 262.0L198.2 261.1L198.8 256.5L199.5 249.2L200.0 252.2L200.5 252.2L201.0 254.8L201.5 256.7L201.9 260.1L202.4 261.5L202.9 265.9L203.4 269.6L204.0 272.5L204.5 272.3L205.1 278.5L205.6 279.0L206.1 281.6L206.6 281.2L207.0 279.9L207.5 282.6L208.0 282.7L208.5 282.5L209.0 283.9L209.5 283.5L210.1 280.9L210.6 282.3L211.1 281.5L211.6 282.7L212.1 280.5L212.6 283.5L213.1 281.2L213.5 283.2L214.0 282.1L214.5 281.2L215.0 280.6L215.5 282.3L216.0 279.8L216.5 282.3L216.9 280.7L217.4 280.2L217.9 279.8L218.4 279.3L218.9 279.6L219.4 280.0L219.9 278.9L220.4 277.7L220.9 277.1L221.4 277.6L221.9 276.9L222.4 275.3L222.9 277.6L223.4 278.4L224.0 278.8L224.5 279.8L225.0 278.8L225.5 278.9L225.9 277.9L226.4 278.5L226.8 278.4L227.3 279.5L227.7 279.1L228.2 280.4L228.6 281.9L229.1 281.3L229.6 281.5L230.0 280.9L230.5 283.0L230.9 284.6L231.4 283.2L231.8 285.1L232.3 282.6L232.7 284.9L233.2 285.6L233.7 286.6L234.1 285.8L234.6 287.8L235.1 287.3L235.6 288.8L236.0 288.4L236.5 289.4L237.0 289.5L237.4 289.4L237.9 289.2L238.4 289.5L238.9 289.5L239.3 290.0L239.8 290.1L240.3 290.3L240.8 289.9L241.2 290.1L241.7 290.4L242.2 290.6L242.6 290.5L243.1 290.5L243.6 290.7L244.1 290.8L244.5 290.9L245.0 291.0Z" fill="#a8a8a8" clip-path="url(#cpB0)"/>
<path d="M189.5 291.2L190.0 289.4L190.5 288.3L191.0 286.3L191.5 284.4L192.0 281.2L192.6 281.6L193.1 280.2L193.7 275.8L194.2 275.5L194.7 274.5L195.2 272.2L195.7 269.9L196.2 266.9L196.7 268.0L197.2 264.9L197.7 262.0L198.2 261.1L198.8 256.5L199.5 249.2L200.0 252.2L200.5 252.2L201.0 254.8L201.5 256.7L201.9 260.1L202.4 261.5L202.9 265.9L203.4 269.6L204.0 272.5L204.5 272.3L205.1 278.5L205.6 279.0L206.1 281.6L206.6 281.2L207.0 279.9L207.5 282.6L208.0 282.7L208.5 282.5L209.0 283.9L209.5 283.5L210.1 280.9L210.6 282.3L211.1 281.5L211.6 282.7L212.1 280.5L212.6 283.5L213.1 281.2L213.5 283.2L214.0 282.1L214.5 281.2L215.0 280.6L215.5 282.3L216.0 279.8L216.5 282.3L216.9 280.7L217.4 280.2L217.9 279.8L218.4 279.3L218.9 279.6L219.4 280.0L219.9 278.9L220.4 277.7L220.9 277.1L221.4 277.6L221.9 276.9L222.4 275.3L222.9 277.6L223.4 278.4L224.0 278.8L224.5 279.8L225.0 278.8L225.5 278.9L225.9 277.9L226.4 278.5L226.8 278.4L227.3 279.5L227.7 279.1L228.2 280.4L228.6 281.9L229.1 281.3L229.6 281.5L230.0 280.9L230.5 283.0L230.9 284.6L231.4 283.2L231.8 285.1L232.3 282.6L232.7 284.9L233.2 285.6L233.7 286.6L234.1 285.8L234.6 287.8L235.1 287.3L235.6 288.8L236.0 288.4L236.5 289.4L237.0 289.5L237.4 289.4L237.9 289.2L238.4 289.5L238.9 289.5L239.3 290.0L239.8 290.1L240.3 290.3L240.8 289.9L241.2 290.1L241.7 290.4L242.2 290.6L242.6 290.5L243.1 290.5L243.6 290.7L244.1 290.8L244.5 290.9L245.0 291.0" fill="none" stroke="#000" stroke-width="2.5" stroke-linejoin="miter"/>
<path d="M212 246.3H268.8M212 243.3v6M268.8 243.3v6" stroke="#000" stroke-width="1.4" fill="none"/>
<text x="246.2" y="241.3" font-size="10" font-weight="bold" text-anchor="start" fill="#383838" stroke="#383838" stroke-width="0.18">M1</text>
<text x="233.8" y="261.8" font-size="10.5" font-weight="bold" text-anchor="start" fill="#000" stroke="#000" stroke-width="0.18">34.6%</text>
<text x="208.8" y="222.5" font-size="10.5" font-weight="bold" text-anchor="start" fill="#000" stroke="#000" stroke-width="0.18">R1</text>
<path d="M183 221.3V291.2H270.6" fill="none" stroke="#000" stroke-width="1.4"/>
<path d="M183 221.3h-2.5M183 238.8h-2.5M183 256.2h-2.5M183 273.7h-2.5M183 291.2h-2.5" stroke="#000" stroke-width="1" fill="none"/>
<path d="M183 291.2v2.6M189.6 291.2v1.6M193.4 291.2v1.6M196.2 291.2v1.6M198.3 291.2v1.6M200 291.2v1.6M201.5 291.2v1.6M202.8 291.2v1.6M203.9 291.2v1.6M204.9 291.2v2.6M211.5 291.2v1.6M215.3 291.2v1.6M218.1 291.2v1.6M220.2 291.2v1.6M221.9 291.2v1.6M223.4 291.2v1.6M224.7 291.2v1.6M225.8 291.2v1.6M226.8 291.2v2.6M233.4 291.2v1.6M237.2 291.2v1.6M240 291.2v1.6M242.1 291.2v1.6M243.8 291.2v1.6M245.3 291.2v1.6M246.6 291.2v1.6M247.7 291.2v1.6M248.7 291.2v2.6M255.3 291.2v1.6M259.1 291.2v1.6M261.9 291.2v1.6M264 291.2v1.6M265.7 291.2v1.6M267.2 291.2v1.6M268.5 291.2v1.6M269.6 291.2v1.6M270.6 291.2v2.6" stroke="#000" stroke-width="0.8" fill="none"/>
<text x="178.4" y="304.4" font-size="11" fill="#000" stroke="#000" stroke-width="0.25">10<tspan font-size="6.3" dx="1.3" dy="-4.6">0</tspan></text>
<text x="200.3" y="304.4" font-size="11" fill="#000" stroke="#000" stroke-width="0.25">10<tspan font-size="6.3" dx="1.3" dy="-4.6">1</tspan></text>
<text x="222.2" y="304.4" font-size="11" fill="#000" stroke="#000" stroke-width="0.25">10<tspan font-size="6.3" dx="1.3" dy="-4.6">2</tspan></text>
<text x="244.1" y="304.4" font-size="11" fill="#000" stroke="#000" stroke-width="0.25">10<tspan font-size="6.3" dx="1.3" dy="-4.6">3</tspan></text>
<text x="266" y="304.4" font-size="11" fill="#000" stroke="#000" stroke-width="0.25">10<tspan font-size="6.3" dx="1.3" dy="-4.6">4</tspan></text>
<text transform="translate(173.7 221.6) rotate(-90)" font-size="10.3" font-weight="normal" text-anchor="middle" dominant-baseline="central" fill="#000" stroke="#000" stroke-width="0.25">64</text>
<text transform="translate(173.7 291.4) rotate(-90)" font-size="10.3" font-weight="normal" text-anchor="middle" dominant-baseline="central" fill="#000" stroke="#000" stroke-width="0.25">0</text>
<path d="M302.5 291.2L305 283L307.5 272L310 265L311.5 266L313.5 272L316 283L318 291.2Z" fill="#bababa" stroke="#000" stroke-width="1"/>
<path d="M300.5 291.0L301.0 285.6L301.5 286.2L302.0 287.3L302.5 288.4L303.0 287.0L303.5 285.7L304.0 284.5L304.5 281.0L305.0 278.7L305.5 275.2L306.0 270.7L306.5 267.0L307.0 261.3L307.5 259.0L308.0 254.7L308.5 251.7L309.0 250.8L309.5 248.0L310.0 247.0L310.5 245.8L310.9 244.7L311.4 245.1L311.9 246.0L312.5 249.0L313.0 254.2L313.5 257.3L314.0 262.2L314.5 265.8L315.0 270.2L315.5 273.9L316.0 276.4L316.5 279.8L317.0 282.2L317.5 285.2L318.0 287.2L318.5 287.7L319.0 288.9L319.5 289.9L320.0 290.1L320.4 290.3L320.9 290.3L321.3 290.4L321.8 290.4L322.2 290.6L322.7 290.7L323.2 290.8L323.6 290.9L324.1 291.0L324.5 291.1L325.0 291.2Z" fill="#111" opacity="0.95"/>
<path d="M302.5 291.2L305 283L307.5 272L310 265L311.5 266L313.5 272L316 283L318 291.2Z" fill="#bababa"/>
<path d="M300.5 291.0L301.0 285.6L301.5 286.2L302.0 287.3L302.5 288.4L303.0 287.0L303.5 285.7L304.0 284.5L304.5 281.0L305.0 278.7L305.5 275.2L306.0 270.7L306.5 267.0L307.0 261.3L307.5 259.0L308.0 254.7L308.5 251.7L309.0 250.8L309.5 248.0L310.0 247.0L310.5 245.8L310.9 244.7L311.4 245.1L311.9 246.0L312.5 249.0L313.0 254.2L313.5 257.3L314.0 262.2L314.5 265.8L315.0 270.2L315.5 273.9L316.0 276.4L316.5 279.8L317.0 282.2L317.5 285.2L318.0 287.2L318.5 287.7L319.0 288.9L319.5 289.9L320.0 290.1L320.4 290.3L320.9 290.3L321.3 290.4L321.8 290.4L322.2 290.6L322.7 290.7L323.2 290.8L323.6 290.9L324.1 291.0L324.5 291.1L325.0 291.2" fill="none" stroke="#000" stroke-width="2.1" stroke-linejoin="miter"/>
<path d="M317.5 250H388.8M317.5 247v6M388.8 247v6" stroke="#000" stroke-width="1.4" fill="none"/>
<text x="366.7" y="245" font-size="10" font-weight="bold" text-anchor="start" fill="#383838" stroke="#383838" stroke-width="0.18">M1</text>
<text x="361" y="265" font-size="10.5" font-weight="bold" text-anchor="start" fill="#000" stroke="#000" stroke-width="0.18">0.0%</text>
<text x="320" y="222.5" font-size="10.5" font-weight="bold" text-anchor="start" fill="#000" stroke="#000" stroke-width="0.18">R2</text>
<path d="M300.6 222.1V291.2H389.4" fill="none" stroke="#000" stroke-width="1.4"/>
<path d="M300.6 222.1h-2.5M300.6 239.4h-2.5M300.6 256.6h-2.5M300.6 273.9h-2.5M300.6 291.2h-2.5" stroke="#000" stroke-width="1" fill="none"/>
<path d="M300.6 291.2v2.6M307.3 291.2v1.6M311.2 291.2v1.6M314 291.2v1.6M316.1 291.2v1.6M317.9 291.2v1.6M319.4 291.2v1.6M320.6 291.2v1.6M321.8 291.2v1.6M322.8 291.2v2.6M329.5 291.2v1.6M333.4 291.2v1.6M336.2 291.2v1.6M338.3 291.2v1.6M340.1 291.2v1.6M341.6 291.2v1.6M342.8 291.2v1.6M344 291.2v1.6M345 291.2v2.6M351.7 291.2v1.6M355.6 291.2v1.6M358.4 291.2v1.6M360.5 291.2v1.6M362.3 291.2v1.6M363.8 291.2v1.6M365 291.2v1.6M366.2 291.2v1.6M367.2 291.2v2.6M373.9 291.2v1.6M377.8 291.2v1.6M380.6 291.2v1.6M382.7 291.2v1.6M384.5 291.2v1.6M386 291.2v1.6M387.2 291.2v1.6M388.4 291.2v1.6M389.4 291.2v2.6" stroke="#000" stroke-width="0.8" fill="none"/>
<text x="296" y="304.4" font-size="11" fill="#000" stroke="#000" stroke-width="0.25">10<tspan font-size="6.3" dx="1.3" dy="-4.6">0</tspan></text>
<text x="318.2" y="304.4" font-size="11" fill="#000" stroke="#000" stroke-width="0.25">10<tspan font-size="6.3" dx="1.3" dy="-4.6">1</tspan></text>
<text x="340.4" y="304.4" font-size="11" fill="#000" stroke="#000" stroke-width="0.25">10<tspan font-size="6.3" dx="1.3" dy="-4.6">2</tspan></text>
<text x="362.6" y="304.4" font-size="11" fill="#000" stroke="#000" stroke-width="0.25">10<tspan font-size="6.3" dx="1.3" dy="-4.6">3</tspan></text>
<text x="384.8" y="304.4" font-size="11" fill="#000" stroke="#000" stroke-width="0.25">10<tspan font-size="6.3" dx="1.3" dy="-4.6">4</tspan></text>
<text transform="translate(291.3 222.4) rotate(-90)" font-size="10.3" font-weight="normal" text-anchor="middle" dominant-baseline="central" fill="#000" stroke="#000" stroke-width="0.25">128</text>
<text transform="translate(291.3 291.4) rotate(-90)" font-size="10.3" font-weight="normal" text-anchor="middle" dominant-baseline="central" fill="#000" stroke="#000" stroke-width="0.25">0</text>
<path d="M418 291L418 272L420 277L423 285L426 291Z" fill="#bababa" stroke="#000" stroke-width="1"/>
<path d="M418.0 291.2L418.0 240.9L418.5 240.8L419.0 240.8L419.2 249.6L419.8 254.5L420.5 256.6L421.0 255.5L421.5 255.4L422.2 255.7L422.7 258.6L423.5 266.3L424.0 268.4L424.5 272.6L425.1 275.7L425.7 279.5L426.1 280.7L426.6 283.1L427.1 283.5L427.5 285.8L428.0 286.6L428.5 286.5L429.0 287.2L429.5 288.3L430.0 288.9L430.5 288.9L431.0 289.3L431.5 289.8L432.0 289.8L432.5 290.2L433.0 290.5L433.5 290.5L433.9 290.6L434.4 290.6L434.9 290.7L435.3 290.7L435.8 290.8L436.3 290.8L436.7 290.9L437.2 290.9L437.7 291.0L438.1 291.0L438.6 291.1L439.1 291.1L439.5 291.2L440.0 291.2Z" fill="#111" opacity="0.95"/>
<path d="M418 291L418 272L420 277L423 285L426 291Z" fill="#bababa"/>
<path d="M418.0 291.2L418.0 240.9L418.5 240.8L419.0 240.8L419.2 249.6L419.8 254.5L420.5 256.6L421.0 255.5L421.5 255.4L422.2 255.7L422.7 258.6L423.5 266.3L424.0 268.4L424.5 272.6L425.1 275.7L425.7 279.5L426.1 280.7L426.6 283.1L427.1 283.5L427.5 285.8L428.0 286.6L428.5 286.5L429.0 287.2L429.5 288.3L430.0 288.9L430.5 288.9L431.0 289.3L431.5 289.8L432.0 289.8L432.5 290.2L433.0 290.5L433.5 290.5L433.9 290.6L434.4 290.6L434.9 290.7L435.3 290.7L435.8 290.8L436.3 290.8L436.7 290.9L437.2 290.9L437.7 291.0L438.1 291.0L438.6 291.1L439.1 291.1L439.5 291.2L440.0 291.2" fill="none" stroke="#000" stroke-width="1.6" stroke-linejoin="miter"/>
<path d="M432.5 258.3H507M432.5 255.3v6M507 255.3v6" stroke="#000" stroke-width="1.4" fill="none"/>
<text x="485" y="253" font-size="10" font-weight="bold" text-anchor="start" fill="#383838" stroke="#383838" stroke-width="0.18">M1</text>
<text x="480" y="271" font-size="10.5" font-weight="bold" text-anchor="start" fill="#000" stroke="#000" stroke-width="0.18">0.0%</text>
<text x="435" y="222.5" font-size="10.5" font-weight="bold" text-anchor="start" fill="#000" stroke="#000" stroke-width="0.18">R3</text>
<path d="M418.4 222.9V291.2H507.5" fill="none" stroke="#000" stroke-width="1.4"/>
<path d="M418.4 222.9h-2.5M418.4 240h-2.5M418.4 257.1h-2.5M418.4 274.1h-2.5M418.4 291.2h-2.5" stroke="#000" stroke-width="1" fill="none"/>
<path d="M418.4 291.2v2.6M425.1 291.2v1.6M429 291.2v1.6M431.8 291.2v1.6M434 291.2v1.6M435.7 291.2v1.6M437.2 291.2v1.6M438.5 291.2v1.6M439.7 291.2v1.6M440.7 291.2v2.6M447.4 291.2v1.6M451.3 291.2v1.6M454.1 291.2v1.6M456.2 291.2v1.6M458 291.2v1.6M459.5 291.2v1.6M460.8 291.2v1.6M461.9 291.2v1.6M462.9 291.2v2.6M469.7 291.2v1.6M473.6 291.2v1.6M476.4 291.2v1.6M478.5 291.2v1.6M480.3 291.2v1.6M481.8 291.2v1.6M483.1 291.2v1.6M484.2 291.2v1.6M485.2 291.2v2.6M491.9 291.2v1.6M495.9 291.2v1.6M498.6 291.2v1.6M500.8 291.2v1.6M502.6 291.2v1.6M504 291.2v1.6M505.3 291.2v1.6M506.5 291.2v1.6M507.5 291.2v2.6" stroke="#000" stroke-width="0.8" fill="none"/>
<text x="413.8" y="304.4" font-size="11" fill="#000" stroke="#000" stroke-width="0.25">10<tspan font-size="6.3" dx="1.3" dy="-4.6">0</tspan></text>
<text x="436.1" y="304.4" font-size="11" fill="#000" stroke="#000" stroke-width="0.25">10<tspan font-size="6.3" dx="1.3" dy="-4.6">1</tspan></text>
<text x="458.3" y="304.4" font-size="11" fill="#000" stroke="#000" stroke-width="0.25">10<tspan font-size="6.3" dx="1.3" dy="-4.6">2</tspan></text>
<text x="480.6" y="304.4" font-size="11" fill="#000" stroke="#000" stroke-width="0.25">10<tspan font-size="6.3" dx="1.3" dy="-4.6">3</tspan></text>
<text x="502.9" y="304.4" font-size="11" fill="#000" stroke="#000" stroke-width="0.25">10<tspan font-size="6.3" dx="1.3" dy="-4.6">4</tspan></text>
<text transform="translate(409.1 223.2) rotate(-90)" font-size="10.3" font-weight="normal" text-anchor="middle" dominant-baseline="central" fill="#000" stroke="#000" stroke-width="0.25">64</text>
<text transform="translate(409.1 291.4) rotate(-90)" font-size="10.3" font-weight="normal" text-anchor="middle" dominant-baseline="central" fill="#000" stroke="#000" stroke-width="0.25">0</text>
<text x="0.2" y="355.6" font-size="16.3" font-weight="bold" text-anchor="start" fill="#000" stroke="#000" stroke-width="0.18">C</text>
<text x="18.6" y="353" font-size="12.2" font-weight="bold" text-anchor="start" fill="#000" stroke="#000" stroke-width="0.18">PBS-recruited cells</text>
<path d="M35 452.5h1M35 456.5h1M35 457.5h1M35 458.5h1M35 459.5h1M35 460.5h1M35 461.5h1M35 462.5h1M35 463.5h1M35 464.5h1M35 466.5h1M36 451.5h1M36 454.5h1M36 455.5h1M36 456.5h1M36 457.5h1M36 458.5h1M36 459.5h1M36 461.5h1M36 462.5h1M36 463.5h1M36 466.5h1M37 381.5h1M37 453.5h1M37 455.5h1M37 456.5h1M37 457.5h1M37 458.5h1M37 460.5h1M37 461.5h1M37 462.5h1M37 463.5h1M37 465.5h1M37 466.5h1M38 451.5h1M38 456.5h1M38 457.5h1M38 458.5h1M38 459.5h1M38 460.5h1M38 462.5h1M38 463.5h1M39 452.5h1M39 455.5h1M39 456.5h1M39 457.5h1M39 458.5h1M39 459.5h1M39 460.5h1M39 461.5h1M39 462.5h1M39 463.5h1M39 464.5h1M39 466.5h1M39 468.5h1M40 451.5h1M40 454.5h1M40 455.5h1M40 456.5h1M40 457.5h1M40 458.5h1M40 459.5h1M40 460.5h1M40 462.5h1M40 463.5h1M40 464.5h1M40 465.5h1M40 466.5h1M40 467.5h1M41 454.5h1M41 455.5h1M41 456.5h1M41 458.5h1M41 459.5h1M41 460.5h1M41 461.5h1M41 462.5h1M41 464.5h1M41 465.5h1M42 452.5h1M42 454.5h1M42 455.5h1M42 456.5h1M42 457.5h1M42 458.5h1M42 459.5h1M42 460.5h1M42 461.5h1M42 462.5h1M42 463.5h1M42 467.5h1M43 453.5h1M43 454.5h1M43 456.5h1M43 457.5h1M43 458.5h1M43 459.5h1M43 460.5h1M43 461.5h1M43 462.5h1M43 463.5h1M43 465.5h1M44 449.5h1M44 453.5h1M44 454.5h1M44 455.5h1M44 456.5h1M44 457.5h1M44 458.5h1M44 459.5h1M44 460.5h1M44 461.5h1M44 462.5h1M44 463.5h1M44 464.5h1M44 465.5h1M45 451.5h1M45 453.5h1M45 456.5h1M45 457.5h1M45 458.5h1M45 459.5h1M45 460.5h1M45 461.5h1M45 463.5h1M45 464.5h1M45 465.5h1M46 454.5h1M46 455.5h1M46 456.5h1M46 457.5h1M46 458.5h1M46 459.5h1M46 460.5h1M46 461.5h1M46 462.5h1M46 463.5h1M46 464.5h1M46 465.5h1M46 468.5h1M47 448.5h1M47 451.5h1M47 452.5h1M47 453.5h1M47 454.5h1M47 455.5h1M47 456.5h1M47 457.5h1M47 458.5h1M47 459.5h1M47 460.5h1M47 461.5h1M47 462.5h1M47 463.5h1M47 464.5h1M47 465.5h1M48 453.5h1M48 454.5h1M48 455.5h1M48 457.5h1M48 458.5h1M48 459.5h1M48 460.5h1M48 461.5h1M48 462.5h1M48 463.5h1M48 465.5h1M49 451.5h1M49 452.5h1M49 454.5h1M49 455.5h1M49 456.5h1M49 457.5h1M49 458.5h1M49 459.5h1M49 460.5h1M49 461.5h1M49 462.5h1M49 463.5h1M49 464.5h1M50 448.5h1M50 452.5h1M50 454.5h1M50 455.5h1M50 456.5h1M50 457.5h1M50 458.5h1M50 459.5h1M50 460.5h1M50 461.5h1M50 462.5h1M50 463.5h1M50 464.5h1M51 451.5h1M51 452.5h1M51 454.5h1M51 455.5h1M51 456.5h1M51 457.5h1M51 458.5h1M51 459.5h1M51 460.5h1M51 461.5h1M51 462.5h1M51 463.5h1M51 464.5h1M51 465.5h1M51 466.5h1M51 468.5h1M52 452.5h1M52 454.5h1M52 455.5h1M52 456.5h1M52 457.5h1M52 458.5h1M52 459.5h1M52 460.5h1M52 461.5h1M52 462.5h1M52 463.5h1M52 464.5h1M52 466.5h1M53 452.5h1M53 453.5h1M53 454.5h1M53 455.5h1M53 456.5h1M53 457.5h1M53 458.5h1M53 459.5h1M53 460.5h1M53 461.5h1M53 462.5h1M53 463.5h1M53 464.5h1M53 466.5h1M54 436.5h1M54 452.5h1M54 454.5h1M54 455.5h1M54 456.5h1M54 458.5h1M54 459.5h1M54 460.5h1M54 461.5h1M54 462.5h1M54 463.5h1M54 464.5h1M54 465.5h1M54 467.5h1M54 468.5h1M55 452.5h1M55 453.5h1M55 454.5h1M55 455.5h1M55 456.5h1M55 457.5h1M55 458.5h1M55 459.5h1M55 460.5h1M55 461.5h1M55 462.5h1M55 463.5h1M55 464.5h1M56 390.5h1M56 421.5h1M56 452.5h1M56 454.5h1M56 455.5h1M56 456.5h1M56 457.5h1M56 458.5h1M56 459.5h1M56 460.5h1M56 461.5h1M56 462.5h1M56 463.5h1M56 464.5h1M56 465.5h1M56 466.5h1M57 367.5h1M57 380.5h1M57 395.5h1M57 438.5h1M57 451.5h1M57 452.5h1M57 453.5h1M57 454.5h1M57 455.5h1M57 456.5h1M57 457.5h1M57 458.5h1M57 459.5h1M57 460.5h1M57 461.5h1M57 462.5h1M57 463.5h1M57 464.5h1M58 381.5h1M58 382.5h1M58 387.5h1M58 388.5h1M58 389.5h1M58 452.5h1M58 453.5h1M58 454.5h1M58 455.5h1M58 456.5h1M58 457.5h1M58 458.5h1M58 459.5h1M58 460.5h1M58 461.5h1M58 462.5h1M58 464.5h1M58 466.5h1M59 385.5h1M59 398.5h1M59 434.5h1M59 450.5h1M59 453.5h1M59 454.5h1M59 455.5h1M59 456.5h1M59 457.5h1M59 458.5h1M59 459.5h1M59 460.5h1M59 461.5h1M59 462.5h1M59 463.5h1M59 465.5h1M60 385.5h1M60 399.5h1M60 427.5h1M60 434.5h1M60 448.5h1M60 452.5h1M60 453.5h1M60 454.5h1M60 455.5h1M60 456.5h1M60 457.5h1M60 458.5h1M60 459.5h1M60 460.5h1M60 461.5h1M60 462.5h1M60 463.5h1M61 368.5h1M61 384.5h1M61 388.5h1M61 402.5h1M61 434.5h1M61 445.5h1M61 450.5h1M61 451.5h1M61 453.5h1M61 454.5h1M61 455.5h1M61 456.5h1M61 457.5h1M61 458.5h1M61 459.5h1M61 460.5h1M61 461.5h1M61 462.5h1M61 463.5h1M61 464.5h1M61 465.5h1M61 467.5h1M62 371.5h1M62 437.5h1M62 443.5h1M62 448.5h1M62 451.5h1M62 452.5h1M62 453.5h1M62 454.5h1M62 455.5h1M62 456.5h1M62 457.5h1M62 458.5h1M62 459.5h1M62 460.5h1M62 461.5h1M62 465.5h1M63 366.5h1M63 383.5h1M63 395.5h1M63 403.5h1M63 420.5h1M63 429.5h1M63 431.5h1M63 437.5h1M63 443.5h1M63 450.5h1M63 452.5h1M63 454.5h1M63 455.5h1M63 456.5h1M63 457.5h1M63 458.5h1M63 459.5h1M63 460.5h1M63 463.5h1M63 464.5h1M64 374.5h1M64 376.5h1M64 380.5h1M64 395.5h1M64 399.5h1M64 404.5h1M64 416.5h1M64 431.5h1M64 432.5h1M64 438.5h1M64 445.5h1M64 451.5h1M64 452.5h1M64 453.5h1M64 454.5h1M64 455.5h1M64 456.5h1M64 458.5h1M64 459.5h1M64 460.5h1M64 461.5h1M64 462.5h1M64 465.5h1M65 368.5h1M65 370.5h1M65 392.5h1M65 397.5h1M65 399.5h1M65 400.5h1M65 402.5h1M65 404.5h1M65 422.5h1M65 424.5h1M65 428.5h1M65 431.5h1M65 436.5h1M65 438.5h1M65 453.5h1M65 454.5h1M65 455.5h1M65 456.5h1M65 458.5h1M65 459.5h1M65 460.5h1M65 462.5h1M65 463.5h1M65 465.5h1M66 379.5h1M66 380.5h1M66 381.5h1M66 386.5h1M66 397.5h1M66 398.5h1M66 401.5h1M66 406.5h1M66 422.5h1M66 431.5h1M66 437.5h1M66 440.5h1M66 443.5h1M66 444.5h1M66 453.5h1M66 454.5h1M66 455.5h1M66 456.5h1M66 457.5h1M66 459.5h1M66 460.5h1M66 461.5h1M66 462.5h1M66 463.5h1M67 376.5h1M67 379.5h1M67 383.5h1M67 388.5h1M67 400.5h1M67 401.5h1M67 407.5h1M67 410.5h1M67 416.5h1M67 431.5h1M67 433.5h1M67 438.5h1M67 440.5h1M67 448.5h1M67 451.5h1M67 452.5h1M67 453.5h1M67 454.5h1M67 455.5h1M67 456.5h1M67 457.5h1M67 458.5h1M67 459.5h1M67 461.5h1M67 462.5h1M67 465.5h1M68 378.5h1M68 391.5h1M68 398.5h1M68 399.5h1M68 401.5h1M68 404.5h1M68 417.5h1M68 425.5h1M68 426.5h1M68 431.5h1M68 433.5h1M68 434.5h1M68 442.5h1M68 445.5h1M68 446.5h1M68 452.5h1M68 453.5h1M68 454.5h1M68 455.5h1M68 456.5h1M68 457.5h1M68 459.5h1M68 460.5h1M68 461.5h1M69 369.5h1M69 377.5h1M69 381.5h1M69 388.5h1M69 397.5h1M69 399.5h1M69 409.5h1M69 410.5h1M69 414.5h1M69 417.5h1M69 418.5h1M69 420.5h1M69 423.5h1M69 426.5h1M69 427.5h1M69 429.5h1M69 434.5h1M69 441.5h1M69 442.5h1M69 447.5h1M69 449.5h1M69 452.5h1M69 455.5h1M69 456.5h1M69 457.5h1M69 458.5h1M69 462.5h1M69 465.5h1M70 367.5h1M70 394.5h1M70 397.5h1M70 402.5h1M70 412.5h1M70 414.5h1M70 418.5h1M70 424.5h1M70 427.5h1M70 428.5h1M70 429.5h1M70 430.5h1M70 435.5h1M70 436.5h1M70 438.5h1M70 440.5h1M70 442.5h1M70 444.5h1M70 445.5h1M70 448.5h1M70 451.5h1M70 453.5h1M70 454.5h1M70 456.5h1M70 458.5h1M70 460.5h1M71 369.5h1M71 371.5h1M71 378.5h1M71 383.5h1M71 393.5h1M71 395.5h1M71 396.5h1M71 398.5h1M71 401.5h1M71 412.5h1M71 414.5h1M71 420.5h1M71 431.5h1M71 435.5h1M71 439.5h1M71 442.5h1M71 443.5h1M71 445.5h1M71 447.5h1M71 449.5h1M71 450.5h1M71 451.5h1M71 452.5h1M71 453.5h1M71 454.5h1M71 455.5h1M71 456.5h1M71 457.5h1M71 459.5h1M71 461.5h1M71 464.5h1M71 465.5h1M71 468.5h1M72 369.5h1M72 371.5h1M72 372.5h1M72 376.5h1M72 379.5h1M72 383.5h1M72 385.5h1M72 408.5h1M72 410.5h1M72 412.5h1M72 413.5h1M72 417.5h1M72 420.5h1M72 425.5h1M72 426.5h1M72 428.5h1M72 429.5h1M72 434.5h1M72 438.5h1M72 441.5h1M72 442.5h1M72 443.5h1M72 445.5h1M72 446.5h1M72 447.5h1M72 451.5h1M72 452.5h1M72 457.5h1M72 458.5h1M72 459.5h1M72 460.5h1M72 461.5h1M72 463.5h1M72 464.5h1M72 465.5h1M73 367.5h1M73 370.5h1M73 375.5h1M73 377.5h1M73 383.5h1M73 385.5h1M73 387.5h1M73 388.5h1M73 391.5h1M73 393.5h1M73 397.5h1M73 415.5h1M73 417.5h1M73 425.5h1M73 426.5h1M73 427.5h1M73 429.5h1M73 430.5h1M73 434.5h1M73 435.5h1M73 436.5h1M73 437.5h1M73 438.5h1M73 441.5h1M73 442.5h1M73 445.5h1M73 448.5h1M73 450.5h1M73 453.5h1M73 454.5h1M73 457.5h1M73 458.5h1M73 460.5h1M73 463.5h1M74 367.5h1M74 375.5h1M74 378.5h1M74 379.5h1M74 381.5h1M74 385.5h1M74 399.5h1M74 400.5h1M74 402.5h1M74 405.5h1M74 413.5h1M74 421.5h1M74 422.5h1M74 423.5h1M74 425.5h1M74 430.5h1M74 433.5h1M74 435.5h1M74 437.5h1M74 438.5h1M74 439.5h1M74 442.5h1M74 443.5h1M74 444.5h1M74 448.5h1M74 450.5h1M74 451.5h1M74 452.5h1M74 454.5h1M74 459.5h1M74 460.5h1M74 461.5h1M75 385.5h1M75 403.5h1M75 404.5h1M75 414.5h1M75 420.5h1M75 423.5h1M75 426.5h1M75 431.5h1M75 433.5h1M75 435.5h1M75 436.5h1M75 437.5h1M75 438.5h1M75 440.5h1M75 442.5h1M75 443.5h1M75 444.5h1M75 445.5h1M75 447.5h1M75 450.5h1M75 451.5h1M75 454.5h1M75 455.5h1M75 456.5h1M75 457.5h1M75 458.5h1M75 461.5h1M75 466.5h1M76 380.5h1M76 385.5h1M76 392.5h1M76 393.5h1M76 395.5h1M76 400.5h1M76 408.5h1M76 409.5h1M76 414.5h1M76 415.5h1M76 417.5h1M76 419.5h1M76 420.5h1M76 422.5h1M76 424.5h1M76 427.5h1M76 432.5h1M76 433.5h1M76 434.5h1M76 435.5h1M76 437.5h1M76 438.5h1M76 439.5h1M76 440.5h1M76 442.5h1M76 443.5h1M76 446.5h1M76 448.5h1M76 450.5h1M76 451.5h1M76 452.5h1M76 453.5h1M76 454.5h1M76 456.5h1M76 457.5h1M76 458.5h1M76 459.5h1M76 460.5h1M76 461.5h1M77 380.5h1M77 385.5h1M77 397.5h1M77 398.5h1M77 404.5h1M77 408.5h1M77 409.5h1M77 410.5h1M77 419.5h1M77 424.5h1M77 426.5h1M77 427.5h1M77 429.5h1M77 431.5h1M77 432.5h1M77 435.5h1M77 437.5h1M77 438.5h1M77 440.5h1M77 442.5h1M77 443.5h1M77 446.5h1M77 449.5h1M77 454.5h1M77 455.5h1M77 458.5h1M78 370.5h1M78 371.5h1M78 373.5h1M78 386.5h1M78 402.5h1M78 404.5h1M78 416.5h1M78 425.5h1M78 426.5h1M78 428.5h1M78 429.5h1M78 430.5h1M78 432.5h1M78 433.5h1M78 434.5h1M78 436.5h1M78 441.5h1M78 443.5h1M78 445.5h1M78 447.5h1M78 448.5h1M78 452.5h1M78 453.5h1M78 454.5h1M78 455.5h1M78 456.5h1M78 458.5h1M78 460.5h1M78 461.5h1M78 464.5h1M79 373.5h1M79 379.5h1M79 390.5h1M79 398.5h1M79 403.5h1M79 410.5h1M79 411.5h1M79 415.5h1M79 422.5h1M79 425.5h1M79 428.5h1M79 430.5h1M79 431.5h1M79 432.5h1M79 437.5h1M79 438.5h1M79 439.5h1M79 441.5h1M79 442.5h1M79 443.5h1M79 444.5h1M79 445.5h1M79 446.5h1M79 448.5h1M79 451.5h1M79 452.5h1M79 454.5h1M79 455.5h1M79 457.5h1M79 460.5h1M79 463.5h1M80 372.5h1M80 386.5h1M80 399.5h1M80 400.5h1M80 403.5h1M80 405.5h1M80 411.5h1M80 413.5h1M80 418.5h1M80 422.5h1M80 426.5h1M80 428.5h1M80 434.5h1M80 440.5h1M80 441.5h1M80 443.5h1M80 445.5h1M80 446.5h1M80 447.5h1M80 449.5h1M80 451.5h1M80 452.5h1M80 454.5h1M80 455.5h1M80 456.5h1M80 458.5h1M80 460.5h1M81 371.5h1M81 401.5h1M81 418.5h1M81 420.5h1M81 422.5h1M81 425.5h1M81 426.5h1M81 431.5h1M81 432.5h1M81 436.5h1M81 438.5h1M81 440.5h1M81 442.5h1M81 444.5h1M81 445.5h1M81 446.5h1M81 447.5h1M81 448.5h1M81 449.5h1M81 450.5h1M81 453.5h1M81 455.5h1M81 456.5h1M81 457.5h1M81 458.5h1M81 461.5h1M82 371.5h1M82 374.5h1M82 399.5h1M82 417.5h1M82 421.5h1M82 422.5h1M82 425.5h1M82 427.5h1M82 428.5h1M82 429.5h1M82 430.5h1M82 435.5h1M82 438.5h1M82 441.5h1M82 442.5h1M82 443.5h1M82 444.5h1M82 446.5h1M82 449.5h1M82 450.5h1M82 451.5h1M82 452.5h1M82 453.5h1M82 454.5h1M82 460.5h1M82 462.5h1M82 463.5h1M83 394.5h1M83 409.5h1M83 412.5h1M83 421.5h1M83 424.5h1M83 425.5h1M83 426.5h1M83 427.5h1M83 428.5h1M83 431.5h1M83 432.5h1M83 436.5h1M83 438.5h1M83 440.5h1M83 444.5h1M83 446.5h1M83 447.5h1M83 448.5h1M83 449.5h1M83 450.5h1M83 451.5h1M83 453.5h1M83 454.5h1M83 455.5h1M83 456.5h1M83 457.5h1M83 459.5h1M83 461.5h1M84 371.5h1M84 380.5h1M84 381.5h1M84 421.5h1M84 424.5h1M84 428.5h1M84 430.5h1M84 433.5h1M84 434.5h1M84 439.5h1M84 442.5h1M84 443.5h1M84 444.5h1M84 445.5h1M84 447.5h1M84 448.5h1M84 449.5h1M84 450.5h1M84 451.5h1M84 452.5h1M84 457.5h1M84 464.5h1M85 424.5h1M85 425.5h1M85 428.5h1M85 431.5h1M85 432.5h1M85 433.5h1M85 439.5h1M85 440.5h1M85 441.5h1M85 442.5h1M85 443.5h1M85 448.5h1M85 449.5h1M85 450.5h1M85 451.5h1M85 452.5h1M85 453.5h1M85 454.5h1M85 456.5h1M85 457.5h1M85 459.5h1M85 460.5h1M85 462.5h1M85 464.5h1M86 376.5h1M86 378.5h1M86 404.5h1M86 410.5h1M86 415.5h1M86 422.5h1M86 425.5h1M86 427.5h1M86 430.5h1M86 434.5h1M86 437.5h1M86 441.5h1M86 442.5h1M86 443.5h1M86 444.5h1M86 445.5h1M86 446.5h1M86 447.5h1M86 448.5h1M86 449.5h1M86 450.5h1M86 451.5h1M86 452.5h1M86 453.5h1M86 454.5h1M86 457.5h1M86 459.5h1M86 461.5h1M86 464.5h1M86 466.5h1M87 391.5h1M87 410.5h1M87 414.5h1M87 416.5h1M87 417.5h1M87 419.5h1M87 425.5h1M87 429.5h1M87 430.5h1M87 434.5h1M87 436.5h1M87 437.5h1M87 440.5h1M87 443.5h1M87 444.5h1M87 445.5h1M87 447.5h1M87 448.5h1M87 449.5h1M87 450.5h1M87 451.5h1M87 452.5h1M87 453.5h1M87 454.5h1M87 455.5h1M87 456.5h1M87 457.5h1M87 458.5h1M87 461.5h1M88 426.5h1M88 431.5h1M88 435.5h1M88 437.5h1M88 441.5h1M88 442.5h1M88 443.5h1M88 444.5h1M88 445.5h1M88 446.5h1M88 447.5h1M88 448.5h1M88 449.5h1M88 450.5h1M88 451.5h1M88 452.5h1M88 453.5h1M88 454.5h1M88 456.5h1M88 457.5h1M88 458.5h1M89 376.5h1M89 395.5h1M89 409.5h1M89 437.5h1M89 438.5h1M89 439.5h1M89 441.5h1M89 443.5h1M89 444.5h1M89 446.5h1M89 447.5h1M89 448.5h1M89 449.5h1M89 450.5h1M89 451.5h1M89 452.5h1M89 453.5h1M89 454.5h1M89 457.5h1M89 458.5h1M90 421.5h1M90 430.5h1M90 434.5h1M90 440.5h1M90 441.5h1M90 442.5h1M90 443.5h1M90 444.5h1M90 445.5h1M90 446.5h1M90 447.5h1M90 448.5h1M90 449.5h1M90 450.5h1M90 451.5h1M90 452.5h1M90 453.5h1M90 454.5h1M90 455.5h1M90 459.5h1M90 460.5h1M90 461.5h1M91 399.5h1M91 412.5h1M91 413.5h1M91 418.5h1M91 420.5h1M91 425.5h1M91 428.5h1M91 430.5h1M91 437.5h1M91 438.5h1M91 439.5h1M91 441.5h1M91 442.5h1M91 444.5h1M91 445.5h1M91 446.5h1M91 447.5h1M91 448.5h1M91 449.5h1M91 450.5h1M91 451.5h1M91 452.5h1M91 453.5h1M91 454.5h1M91 455.5h1M91 456.5h1M91 457.5h1M92 404.5h1M92 418.5h1M92 424.5h1M92 425.5h1M92 431.5h1M92 433.5h1M92 435.5h1M92 436.5h1M92 437.5h1M92 438.5h1M92 439.5h1M92 440.5h1M92 441.5h1M92 442.5h1M92 443.5h1M92 444.5h1M92 445.5h1M92 446.5h1M92 447.5h1M92 448.5h1M92 449.5h1M92 450.5h1M92 451.5h1M92 455.5h1M92 458.5h1M92 465.5h1M93 366.5h1M93 368.5h1M93 401.5h1M93 407.5h1M93 414.5h1M93 418.5h1M93 431.5h1M93 434.5h1M93 435.5h1M93 436.5h1M93 437.5h1M93 439.5h1M93 440.5h1M93 441.5h1M93 442.5h1M93 443.5h1M93 444.5h1M93 445.5h1M93 446.5h1M93 447.5h1M93 448.5h1M93 449.5h1M93 450.5h1M93 452.5h1M93 453.5h1M93 454.5h1M93 456.5h1M93 459.5h1M94 378.5h1M94 426.5h1M94 427.5h1M94 428.5h1M94 435.5h1M94 436.5h1M94 437.5h1M94 438.5h1M94 439.5h1M94 440.5h1M94 441.5h1M94 442.5h1M94 443.5h1M94 444.5h1M94 445.5h1M94 446.5h1M94 447.5h1M94 448.5h1M94 449.5h1M94 450.5h1M94 451.5h1M94 452.5h1M94 453.5h1M94 455.5h1M94 459.5h1M94 463.5h1M95 410.5h1M95 422.5h1M95 425.5h1M95 428.5h1M95 430.5h1M95 434.5h1M95 436.5h1M95 437.5h1M95 438.5h1M95 440.5h1M95 441.5h1M95 442.5h1M95 443.5h1M95 444.5h1M95 445.5h1M95 446.5h1M95 447.5h1M95 448.5h1M95 449.5h1M95 450.5h1M95 451.5h1M95 452.5h1M95 453.5h1M95 455.5h1M95 458.5h1M96 368.5h1M96 417.5h1M96 423.5h1M96 431.5h1M96 433.5h1M96 434.5h1M96 436.5h1M96 437.5h1M96 438.5h1M96 439.5h1M96 440.5h1M96 441.5h1M96 442.5h1M96 443.5h1M96 444.5h1M96 445.5h1M96 446.5h1M96 447.5h1M96 448.5h1M96 449.5h1M96 450.5h1M96 451.5h1M96 452.5h1M96 453.5h1M96 454.5h1M96 455.5h1M96 457.5h1M97 371.5h1M97 372.5h1M97 373.5h1M97 412.5h1M97 420.5h1M97 427.5h1M97 431.5h1M97 433.5h1M97 434.5h1M97 435.5h1M97 436.5h1M97 437.5h1M97 438.5h1M97 439.5h1M97 440.5h1M97 441.5h1M97 442.5h1M97 443.5h1M97 444.5h1M97 445.5h1M97 446.5h1M97 447.5h1M97 448.5h1M97 449.5h1M97 450.5h1M97 451.5h1M97 452.5h1M97 454.5h1M97 457.5h1M98 385.5h1M98 403.5h1M98 405.5h1M98 418.5h1M98 422.5h1M98 431.5h1M98 432.5h1M98 433.5h1M98 435.5h1M98 436.5h1M98 437.5h1M98 438.5h1M98 439.5h1M98 440.5h1M98 441.5h1M98 442.5h1M98 443.5h1M98 444.5h1M98 445.5h1M98 446.5h1M98 447.5h1M98 448.5h1M98 450.5h1M98 452.5h1M98 455.5h1M99 367.5h1M99 373.5h1M99 423.5h1M99 427.5h1M99 432.5h1M99 433.5h1M99 434.5h1M99 435.5h1M99 436.5h1M99 437.5h1M99 438.5h1M99 439.5h1M99 440.5h1M99 441.5h1M99 442.5h1M99 443.5h1M99 444.5h1M99 445.5h1M99 446.5h1M99 447.5h1M99 448.5h1M99 449.5h1M99 450.5h1M99 455.5h1M100 366.5h1M100 393.5h1M100 400.5h1M100 419.5h1M100 423.5h1M100 424.5h1M100 425.5h1M100 427.5h1M100 430.5h1M100 431.5h1M100 432.5h1M100 433.5h1M100 434.5h1M100 435.5h1M100 436.5h1M100 437.5h1M100 438.5h1M100 439.5h1M100 440.5h1M100 441.5h1M100 442.5h1M100 443.5h1M100 444.5h1M100 445.5h1M100 446.5h1M100 447.5h1M100 448.5h1M100 450.5h1M100 452.5h1M100 454.5h1M101 371.5h1M101 403.5h1M101 413.5h1M101 417.5h1M101 426.5h1M101 427.5h1M101 429.5h1M101 431.5h1M101 434.5h1M101 435.5h1M101 436.5h1M101 437.5h1M101 438.5h1M101 439.5h1M101 440.5h1M101 441.5h1M101 442.5h1M101 443.5h1M101 444.5h1M101 445.5h1M101 446.5h1M101 448.5h1M101 449.5h1M101 450.5h1M101 451.5h1M101 452.5h1M101 456.5h1M101 458.5h1M102 389.5h1M102 393.5h1M102 395.5h1M102 398.5h1M102 427.5h1M102 430.5h1M102 431.5h1M102 432.5h1M102 433.5h1M102 434.5h1M102 435.5h1M102 436.5h1M102 437.5h1M102 438.5h1M102 439.5h1M102 440.5h1M102 441.5h1M102 442.5h1M102 443.5h1M102 444.5h1M102 445.5h1M102 446.5h1M102 447.5h1M102 448.5h1M102 452.5h1M102 455.5h1M103 383.5h1M103 384.5h1M103 402.5h1M103 405.5h1M103 428.5h1M103 431.5h1M103 432.5h1M103 433.5h1M103 434.5h1M103 435.5h1M103 436.5h1M103 437.5h1M103 438.5h1M103 439.5h1M103 440.5h1M103 441.5h1M103 442.5h1M103 443.5h1M103 444.5h1M103 445.5h1M103 446.5h1M103 447.5h1M104 383.5h1M104 392.5h1M104 394.5h1M104 399.5h1M104 404.5h1M104 406.5h1M104 421.5h1M104 428.5h1M104 430.5h1M104 433.5h1M104 436.5h1M104 437.5h1M104 438.5h1M104 439.5h1M104 440.5h1M104 441.5h1M104 442.5h1M104 443.5h1M104 445.5h1M104 448.5h1M105 385.5h1M105 390.5h1M105 397.5h1M105 398.5h1M105 404.5h1M105 405.5h1M105 413.5h1M105 429.5h1M105 431.5h1M105 432.5h1M105 433.5h1M105 434.5h1M105 435.5h1M105 437.5h1M105 438.5h1M105 439.5h1M105 440.5h1M105 442.5h1M105 444.5h1M105 446.5h1M106 368.5h1M106 378.5h1M106 387.5h1M106 389.5h1M106 390.5h1M106 401.5h1M106 404.5h1M106 405.5h1M106 407.5h1M106 411.5h1M106 425.5h1M106 426.5h1M106 427.5h1M106 429.5h1M106 430.5h1M106 431.5h1M106 433.5h1M106 434.5h1M106 435.5h1M106 436.5h1M106 437.5h1M106 438.5h1M106 439.5h1M106 440.5h1M106 441.5h1M106 446.5h1M106 449.5h1M107 380.5h1M107 384.5h1M107 387.5h1M107 389.5h1M107 390.5h1M107 392.5h1M107 395.5h1M107 396.5h1M107 398.5h1M107 399.5h1M107 405.5h1M107 409.5h1M107 413.5h1M107 419.5h1M107 421.5h1M107 428.5h1M107 430.5h1M107 432.5h1M107 433.5h1M107 434.5h1M107 437.5h1M107 438.5h1M107 439.5h1M107 443.5h1M107 444.5h1M108 371.5h1M108 377.5h1M108 379.5h1M108 383.5h1M108 384.5h1M108 387.5h1M108 388.5h1M108 391.5h1M108 395.5h1M108 402.5h1M108 404.5h1M108 405.5h1M108 407.5h1M108 408.5h1M108 410.5h1M108 421.5h1M108 423.5h1M108 426.5h1M108 427.5h1M108 431.5h1M108 432.5h1M108 433.5h1M108 434.5h1M108 436.5h1M108 437.5h1M108 438.5h1M108 439.5h1M108 440.5h1M108 441.5h1M108 444.5h1M109 366.5h1M109 378.5h1M109 380.5h1M109 385.5h1M109 397.5h1M109 402.5h1M109 404.5h1M109 413.5h1M109 423.5h1M109 426.5h1M109 427.5h1M109 428.5h1M109 429.5h1M109 430.5h1M109 432.5h1M109 434.5h1M109 435.5h1M109 439.5h1M109 441.5h1M109 444.5h1M109 467.5h1M110 386.5h1M110 388.5h1M110 393.5h1M110 394.5h1M110 403.5h1M110 416.5h1M110 419.5h1M110 426.5h1M110 428.5h1M110 429.5h1M110 430.5h1M110 431.5h1M110 432.5h1M110 433.5h1M110 434.5h1M110 435.5h1M110 436.5h1M110 438.5h1M110 443.5h1M110 445.5h1M111 379.5h1M111 384.5h1M111 393.5h1M111 396.5h1M111 402.5h1M111 411.5h1M111 412.5h1M111 416.5h1M111 419.5h1M111 420.5h1M111 422.5h1M111 425.5h1M111 426.5h1M111 427.5h1M111 428.5h1M111 429.5h1M111 430.5h1M111 431.5h1M111 438.5h1M112 375.5h1M112 384.5h1M112 396.5h1M112 397.5h1M112 398.5h1M112 401.5h1M112 408.5h1M112 409.5h1M112 425.5h1M112 426.5h1M112 430.5h1M112 433.5h1M112 462.5h1M113 372.5h1M113 380.5h1M113 386.5h1M113 390.5h1M113 393.5h1M113 396.5h1M113 409.5h1M113 410.5h1M113 423.5h1M113 424.5h1M114 386.5h1M114 398.5h1M114 400.5h1M114 401.5h1M114 402.5h1M114 405.5h1M114 409.5h1M114 423.5h1M114 437.5h1M114 461.5h1M115 383.5h1M115 392.5h1M115 400.5h1M115 405.5h1M115 411.5h1M115 412.5h1M115 432.5h1M115 437.5h1M115 439.5h1M116 367.5h1M116 378.5h1M116 380.5h1M116 392.5h1M116 409.5h1M117 371.5h1M117 396.5h1M120 423.5h1M122 373.5h1M122 428.5h1M124 419.5h1M125 371.5h1" stroke="#4a4a4a" stroke-width="1" fill="none" filter="url(#soft)"/>
<path d="M105.1 377.9L120.4 374.2L123.5 415L126.8 437.6L83.8 463.2L81.6 457.8L105.5 419.4Z" fill="none" stroke="#000" stroke-width="2" stroke-linejoin="round"/>
<ellipse cx="70" cy="411" rx="11.5" ry="39.5" transform="rotate(0 70 411)" fill="none" stroke="#000" stroke-width="1.9"/>
<ellipse cx="54" cy="458.7" rx="20" ry="7.3" transform="rotate(-3 54 458.7)" fill="none" stroke="#000" stroke-width="1.9"/>
<rect x="97.5" y="381.5" width="14" height="10" fill="#fff"/>
<text x="98" y="390" font-size="10.5" font-weight="bold" text-anchor="start" fill="#000" stroke="#000" stroke-width="0.18">R1</text>
<rect x="58.1" y="412.7" width="14" height="10" fill="#fff"/>
<text x="58.6" y="421.2" font-size="10.5" font-weight="bold" text-anchor="start" fill="#000" stroke="#000" stroke-width="0.18">R2</text>
<text x="35.6" y="440.8" font-size="10.5" font-weight="bold" text-anchor="start" fill="#000" stroke="#000" stroke-width="0.18">R3</text>
<rect x="33.8" y="364.8" width="104.6" height="104.4" fill="none" stroke="#000" stroke-width="1.3"/>
<path d="M32.4 366.8V469.2" stroke="#000" stroke-width="1.6" stroke-dasharray="1.1 1.3" fill="none"/>
<path d="M33.8 469.2v2.9M41.7 469.2v1.8M46.3 469.2v1.8M49.5 469.2v1.8M52.1 469.2v1.8M54.1 469.2v1.8M55.9 469.2v1.8M57.4 469.2v1.8M58.8 469.2v1.8M60 469.2v2.9M67.8 469.2v1.8M72.4 469.2v1.8M75.7 469.2v1.8M78.2 469.2v1.8M80.3 469.2v1.8M82 469.2v1.8M83.6 469.2v1.8M84.9 469.2v1.8M86.1 469.2v2.9M94 469.2v1.8M98.6 469.2v1.8M101.8 469.2v1.8M104.4 469.2v1.8M106.4 469.2v1.8M108.2 469.2v1.8M109.7 469.2v1.8M111.1 469.2v1.8M112.2 469.2v2.9M120.1 469.2v1.8M124.7 469.2v1.8M128 469.2v1.8M130.5 469.2v1.8M132.6 469.2v1.8M134.3 469.2v1.8M135.9 469.2v1.8M137.2 469.2v1.8M138.4 469.2v2.9" stroke="#000" stroke-width="0.9" fill="none"/>
<text x="29.2" y="482.1" font-size="11" fill="#000" stroke="#000" stroke-width="0.25">10<tspan font-size="6.3" dx="1.3" dy="-4.6">0</tspan></text>
<text x="55.4" y="482.1" font-size="11" fill="#000" stroke="#000" stroke-width="0.25">10<tspan font-size="6.3" dx="1.3" dy="-4.6">1</tspan></text>
<text x="81.5" y="482.1" font-size="11" fill="#000" stroke="#000" stroke-width="0.25">10<tspan font-size="6.3" dx="1.3" dy="-4.6">2</tspan></text>
<text x="107.7" y="482.1" font-size="11" fill="#000" stroke="#000" stroke-width="0.25">10<tspan font-size="6.3" dx="1.3" dy="-4.6">3</tspan></text>
<text x="133.8" y="482.1" font-size="11" fill="#000" stroke="#000" stroke-width="0.25">10<tspan font-size="6.3" dx="1.3" dy="-4.6">4</tspan></text>
<text transform="translate(24.7 381.2) rotate(-90)" font-size="10.4" font-weight="normal" text-anchor="middle" dominant-baseline="central" fill="#000" stroke="#000" stroke-width="0.25">1023</text>
<text transform="translate(24.7 467.7) rotate(-90)" font-size="10.3" font-weight="normal" text-anchor="middle" dominant-baseline="central" fill="#000" stroke="#000" stroke-width="0.25">0</text>
<path d="M17.7 406.5V484.1H81" fill="none" stroke="#000" stroke-width="1.3"/>
<path d="M17.7 403.5L15.5 408.5L19.9 408.5Z" fill="#000"/>
<path d="M84 484.1L79 481.9L79 486.3Z" fill="#000"/>
<text transform="translate(7.9 447) rotate(-90)" font-size="11.3" font-weight="bold" text-anchor="middle" dominant-baseline="central" fill="#000" stroke="#000" stroke-width="0.3">Side Scatter</text>
<text x="27.8" y="497.1" font-size="10.5" font-weight="bold" text-anchor="start" fill="#000" stroke="#000" stroke-width="0.18">F4/80</text>
<path d="M167 406.5V484.1H508" fill="none" stroke="#000" stroke-width="1.3"/>
<path d="M167 403.5L164.8 408.5L169.2 408.5Z" fill="#000"/>
<path d="M511 484.1L506 481.9L506 486.3Z" fill="#000"/>
<text transform="translate(154.7 444.4) rotate(-90)" font-size="11" font-weight="bold" text-anchor="middle" dominant-baseline="central" fill="#000" stroke="#000" stroke-width="0.3">Counts</text>
<text x="305.5" y="497.2" font-size="11" font-weight="bold" text-anchor="start" fill="#000" stroke="#000" stroke-width="0.18">Folate-FITC</text>
<path d="M186 463.2L190 452L193 443L195.8 439.7L199 443L203 452L206 463.2Z" fill="#bababa" stroke="#000" stroke-width="1"/>
<path d="M184.2 463.0L184.8 458.4L185.5 453.7L186.0 452.3L186.6 451.5L187.1 448.4L187.6 445.7L188.1 443.0L188.6 439.0L189.1 437.2L189.6 433.2L190.1 430.8L190.6 430.2L191.0 425.5L191.5 425.7L192.0 422.2L192.5 421.4L193.0 421.4L193.5 421.1L194.1 424.7L194.6 426.0L195.1 427.3L195.6 429.0L196.0 425.1L196.4 425.7L196.9 426.1L197.4 422.3L197.8 423.0L198.3 423.2L198.7 425.1L199.2 426.8L199.7 426.1L200.1 427.3L200.6 428.5L201.1 431.1L201.5 431.9L201.9 431.8L202.4 433.4L202.9 435.0L203.3 436.8L203.8 440.4L204.4 441.0L204.9 443.2L205.5 443.3L206.0 446.9L206.5 448.4L207.0 449.1L207.5 449.3L208.0 451.8L208.5 450.5L209.0 451.7L209.5 452.6L210.0 453.6L210.5 453.1L210.9 453.6L211.4 455.8L211.9 455.5L212.4 457.0L212.9 456.0L213.3 459.1L213.8 458.6L214.3 459.4L214.8 458.8L215.2 459.5L215.7 460.5L216.2 459.4L216.7 460.0L217.1 459.9L217.6 460.7L218.1 461.3L218.5 461.4L219.0 461.5L219.5 461.9L219.9 461.7L220.4 461.8L220.9 461.7L221.3 462.1L221.8 462.4L222.3 462.2L222.7 462.3L223.2 462.7L223.7 462.6L224.1 462.9L224.6 462.9L225.1 463.0L225.5 463.1L226.0 463.2Z" fill="#111" opacity="0.74"/>
<path d="M186 463.2L190 452L193 443L195.8 439.7L199 443L203 452L206 463.2Z" fill="#bababa"/>
<path d="M184.2 463.0L184.8 458.4L185.5 453.7L186.0 452.3L186.6 451.5L187.1 448.4L187.6 445.7L188.1 443.0L188.6 439.0L189.1 437.2L189.6 433.2L190.1 430.8L190.6 430.2L191.0 425.5L191.5 425.7L192.0 422.2L192.5 421.4L193.0 421.4L193.5 421.1L194.1 424.7L194.6 426.0L195.1 427.3L195.6 429.0L196.0 425.1L196.4 425.7L196.9 426.1L197.4 422.3L197.8 423.0L198.3 423.2L198.7 425.1L199.2 426.8L199.7 426.1L200.1 427.3L200.6 428.5L201.1 431.1L201.5 431.9L201.9 431.8L202.4 433.4L202.9 435.0L203.3 436.8L203.8 440.4L204.4 441.0L204.9 443.2L205.5 443.3L206.0 446.9L206.5 448.4L207.0 449.1L207.5 449.3L208.0 451.8L208.5 450.5L209.0 451.7L209.5 452.6L210.0 453.6L210.5 453.1L210.9 453.6L211.4 455.8L211.9 455.5L212.4 457.0L212.9 456.0L213.3 459.1L213.8 458.6L214.3 459.4L214.8 458.8L215.2 459.5L215.7 460.5L216.2 459.4L216.7 460.0L217.1 459.9L217.6 460.7L218.1 461.3L218.5 461.4L219.0 461.5L219.5 461.9L219.9 461.7L220.4 461.8L220.9 461.7L221.3 462.1L221.8 462.4L222.3 462.2L222.7 462.3L223.2 462.7L223.7 462.6L224.1 462.9L224.6 462.9L225.1 463.0L225.5 463.1L226.0 463.2" fill="none" stroke="#000" stroke-width="2.1" stroke-linejoin="miter"/>
<path d="M208 431.3H269.5M208 428.3v6M269.5 428.3v6" stroke="#000" stroke-width="1.4" fill="none"/>
<text x="247.2" y="426.3" font-size="10" font-weight="bold" text-anchor="start" fill="#383838" stroke="#383838" stroke-width="0.18">M1</text>
<text x="243" y="444.3" font-size="10.5" font-weight="bold" text-anchor="start" fill="#000" stroke="#000" stroke-width="0.18">1.9%</text>
<text x="208" y="393.8" font-size="10.5" font-weight="bold" text-anchor="start" fill="#000" stroke="#000" stroke-width="0.18">R1</text>
<path d="M183.5 392.4V463.3H270.6" fill="none" stroke="#000" stroke-width="1.4"/>
<path d="M183.5 392.4h-2.5M183.5 410.1h-2.5M183.5 427.9h-2.5M183.5 445.6h-2.5M183.5 463.3h-2.5" stroke="#000" stroke-width="1" fill="none"/>
<path d="M183.5 463.3v2.6M190.1 463.3v1.6M193.9 463.3v1.6M196.6 463.3v1.6M198.7 463.3v1.6M200.4 463.3v1.6M201.9 463.3v1.6M203.2 463.3v1.6M204.3 463.3v1.6M205.3 463.3v2.6M211.8 463.3v1.6M215.7 463.3v1.6M218.4 463.3v1.6M220.5 463.3v1.6M222.2 463.3v1.6M223.7 463.3v1.6M224.9 463.3v1.6M226.1 463.3v1.6M227.1 463.3v2.6M233.6 463.3v1.6M237.4 463.3v1.6M240.2 463.3v1.6M242.3 463.3v1.6M244 463.3v1.6M245.5 463.3v1.6M246.7 463.3v1.6M247.8 463.3v1.6M248.8 463.3v2.6M255.4 463.3v1.6M259.2 463.3v1.6M261.9 463.3v1.6M264 463.3v1.6M265.8 463.3v1.6M267.2 463.3v1.6M268.5 463.3v1.6M269.6 463.3v1.6M270.6 463.3v2.6" stroke="#000" stroke-width="0.8" fill="none"/>
<text x="178.9" y="476.5" font-size="11" fill="#000" stroke="#000" stroke-width="0.25">10<tspan font-size="6.3" dx="1.3" dy="-4.6">0</tspan></text>
<text x="200.7" y="476.5" font-size="11" fill="#000" stroke="#000" stroke-width="0.25">10<tspan font-size="6.3" dx="1.3" dy="-4.6">1</tspan></text>
<text x="222.5" y="476.5" font-size="11" fill="#000" stroke="#000" stroke-width="0.25">10<tspan font-size="6.3" dx="1.3" dy="-4.6">2</tspan></text>
<text x="244.2" y="476.5" font-size="11" fill="#000" stroke="#000" stroke-width="0.25">10<tspan font-size="6.3" dx="1.3" dy="-4.6">3</tspan></text>
<text x="266" y="476.5" font-size="11" fill="#000" stroke="#000" stroke-width="0.25">10<tspan font-size="6.3" dx="1.3" dy="-4.6">4</tspan></text>
<text transform="translate(174.2 392.7) rotate(-90)" font-size="10.3" font-weight="normal" text-anchor="middle" dominant-baseline="central" fill="#000" stroke="#000" stroke-width="0.25">32</text>
<text transform="translate(174.2 463.5) rotate(-90)" font-size="10.3" font-weight="normal" text-anchor="middle" dominant-baseline="central" fill="#000" stroke="#000" stroke-width="0.25">0</text>
<path d="M302 463.2L302 455L305 458L306 463.2Z" fill="#bababa" stroke="#000" stroke-width="1"/>
<path d="M301.2 463.0L301.2 412.4L302.0 412.3L302.6 423.1L303.2 433.8L303.7 435.5L304.1 438.4L304.6 439.7L305.1 441.9L305.5 443.5L306.0 445.8L306.5 447.4L307.1 448.4L307.6 451.6L308.2 452.8L308.7 454.6L309.2 455.4L309.7 457.3L310.2 457.3L310.6 459.0L311.1 459.8L311.6 459.9L312.1 460.7L312.6 461.0L313.0 461.4L313.5 461.2L314.0 461.5L314.4 461.8L314.9 461.6L315.4 461.9L315.8 462.0L316.3 462.1L316.7 462.3L317.2 462.4L317.7 462.6L318.1 462.7L318.6 462.8L319.1 462.9L319.5 463.1L320.0 463.2Z" fill="#111" opacity="0.95"/>
<path d="M302 463.2L302 455L305 458L306 463.2Z" fill="#bababa"/>
<path d="M301.2 463.0L301.2 412.4L302.0 412.3L302.6 423.1L303.2 433.8L303.7 435.5L304.1 438.4L304.6 439.7L305.1 441.9L305.5 443.5L306.0 445.8L306.5 447.4L307.1 448.4L307.6 451.6L308.2 452.8L308.7 454.6L309.2 455.4L309.7 457.3L310.2 457.3L310.6 459.0L311.1 459.8L311.6 459.9L312.1 460.7L312.6 461.0L313.0 461.4L313.5 461.2L314.0 461.5L314.4 461.8L314.9 461.6L315.4 461.9L315.8 462.0L316.3 462.1L316.7 462.3L317.2 462.4L317.7 462.6L318.1 462.7L318.6 462.8L319.1 462.9L319.5 463.1L320.0 463.2" fill="none" stroke="#000" stroke-width="2.1" stroke-linejoin="miter"/>
<path d="M310.5 427H390M310.5 424v6M390 424v6" stroke="#000" stroke-width="1.4" fill="none"/>
<text x="367.2" y="422" font-size="10" font-weight="bold" text-anchor="start" fill="#383838" stroke="#383838" stroke-width="0.18">M1</text>
<text x="363.8" y="439.3" font-size="10.5" font-weight="bold" text-anchor="start" fill="#000" stroke="#000" stroke-width="0.18">0.0%</text>
<text x="318" y="393.8" font-size="10.5" font-weight="bold" text-anchor="start" fill="#000" stroke="#000" stroke-width="0.18">R2</text>
<path d="M301.5 392.4V463.3H390.6" fill="none" stroke="#000" stroke-width="1.4"/>
<path d="M301.5 392.4h-2.5M301.5 410.1h-2.5M301.5 427.9h-2.5M301.5 445.6h-2.5M301.5 463.3h-2.5" stroke="#000" stroke-width="1" fill="none"/>
<path d="M301.5 463.3v2.6M308.2 463.3v1.6M312.1 463.3v1.6M314.9 463.3v1.6M317.1 463.3v1.6M318.8 463.3v1.6M320.3 463.3v1.6M321.6 463.3v1.6M322.8 463.3v1.6M323.8 463.3v2.6M330.5 463.3v1.6M334.4 463.3v1.6M337.2 463.3v1.6M339.3 463.3v1.6M341.1 463.3v1.6M342.6 463.3v1.6M343.9 463.3v1.6M345 463.3v1.6M346.1 463.3v2.6M352.8 463.3v1.6M356.7 463.3v1.6M359.5 463.3v1.6M361.6 463.3v1.6M363.4 463.3v1.6M364.9 463.3v1.6M366.2 463.3v1.6M367.3 463.3v1.6M368.3 463.3v2.6M375 463.3v1.6M379 463.3v1.6M381.7 463.3v1.6M383.9 463.3v1.6M385.7 463.3v1.6M387.1 463.3v1.6M388.4 463.3v1.6M389.6 463.3v1.6M390.6 463.3v2.6" stroke="#000" stroke-width="0.8" fill="none"/>
<text x="296.9" y="476.5" font-size="11" fill="#000" stroke="#000" stroke-width="0.25">10<tspan font-size="6.3" dx="1.3" dy="-4.6">0</tspan></text>
<text x="319.2" y="476.5" font-size="11" fill="#000" stroke="#000" stroke-width="0.25">10<tspan font-size="6.3" dx="1.3" dy="-4.6">1</tspan></text>
<text x="341.4" y="476.5" font-size="11" fill="#000" stroke="#000" stroke-width="0.25">10<tspan font-size="6.3" dx="1.3" dy="-4.6">2</tspan></text>
<text x="363.7" y="476.5" font-size="11" fill="#000" stroke="#000" stroke-width="0.25">10<tspan font-size="6.3" dx="1.3" dy="-4.6">3</tspan></text>
<text x="386" y="476.5" font-size="11" fill="#000" stroke="#000" stroke-width="0.25">10<tspan font-size="6.3" dx="1.3" dy="-4.6">4</tspan></text>
<text transform="translate(292.2 392.7) rotate(-90)" font-size="10.3" font-weight="normal" text-anchor="middle" dominant-baseline="central" fill="#000" stroke="#000" stroke-width="0.25">8</text>
<text transform="translate(292.2 463.5) rotate(-90)" font-size="10.3" font-weight="normal" text-anchor="middle" dominant-baseline="central" fill="#000" stroke="#000" stroke-width="0.25">0</text>
<path d="M418.5 463.2L418.5 452L421 458L423 463.2Z" fill="#bababa" stroke="#000" stroke-width="1"/>
<path d="M418.2 463.0L418.2 402.6L419.0 405.2L419.6 416.3L420.2 426.8L420.7 433.0L421.2 437.5L421.8 443.3L422.3 447.6L422.8 450.0L423.4 452.3L423.9 453.9L424.5 455.0L425.0 457.8L425.5 457.5L425.9 457.8L426.4 459.1L426.8 458.8L427.3 459.3L427.7 459.5L428.2 460.7L428.6 460.8L429.1 461.1L429.5 461.6L430.0 462.0L430.5 462.0L430.9 462.2L431.4 462.1L431.8 462.1L432.3 462.3L432.7 462.3L433.2 462.3L433.6 462.3L434.1 462.6L434.5 462.5L435.0 462.7L435.5 462.7L435.9 462.7L436.4 462.8L436.8 462.8L437.3 462.9L437.7 462.9L438.2 463.0L438.6 463.0L439.1 463.1L439.5 463.1L440.0 463.2Z" fill="#111" opacity="0.95"/>
<path d="M418.5 463.2L418.5 452L421 458L423 463.2Z" fill="#bababa"/>
<path d="M418.2 463.0L418.2 402.6L419.0 405.2L419.6 416.3L420.2 426.8L420.7 433.0L421.2 437.5L421.8 443.3L422.3 447.6L422.8 450.0L423.4 452.3L423.9 453.9L424.5 455.0L425.0 457.8L425.5 457.5L425.9 457.8L426.4 459.1L426.8 458.8L427.3 459.3L427.7 459.5L428.2 460.7L428.6 460.8L429.1 461.1L429.5 461.6L430.0 462.0L430.5 462.0L430.9 462.2L431.4 462.1L431.8 462.1L432.3 462.3L432.7 462.3L433.2 462.3L433.6 462.3L434.1 462.6L434.5 462.5L435.0 462.7L435.5 462.7L435.9 462.7L436.4 462.8L436.8 462.8L437.3 462.9L437.7 462.9L438.2 463.0L438.6 463.0L439.1 463.1L439.5 463.1L440.0 463.2" fill="none" stroke="#000" stroke-width="2.1" stroke-linejoin="miter"/>
<path d="M424.5 431.3H506.3M424.5 428.3v6M506.3 428.3v6" stroke="#000" stroke-width="1.4" fill="none"/>
<text x="483" y="426.3" font-size="10" font-weight="bold" text-anchor="start" fill="#383838" stroke="#383838" stroke-width="0.18">M1</text>
<text x="480" y="444.3" font-size="10.5" font-weight="bold" text-anchor="start" fill="#000" stroke="#000" stroke-width="0.18">0.0%</text>
<text x="428.8" y="394.3" font-size="10.5" font-weight="bold" text-anchor="start" fill="#000" stroke="#000" stroke-width="0.18">R3</text>
<path d="M418.4 392.8V463.3H506.5" fill="none" stroke="#000" stroke-width="1.4"/>
<path d="M418.4 392.8h-2.5M418.4 410.4h-2.5M418.4 428.1h-2.5M418.4 445.7h-2.5M418.4 463.3h-2.5" stroke="#000" stroke-width="1" fill="none"/>
<path d="M418.4 463.3v2.6M425 463.3v1.6M428.9 463.3v1.6M431.7 463.3v1.6M433.8 463.3v1.6M435.5 463.3v1.6M437 463.3v1.6M438.3 463.3v1.6M439.4 463.3v1.6M440.4 463.3v2.6M447.1 463.3v1.6M450.9 463.3v1.6M453.7 463.3v1.6M455.8 463.3v1.6M457.6 463.3v1.6M459 463.3v1.6M460.3 463.3v1.6M461.4 463.3v1.6M462.4 463.3v2.6M469.1 463.3v1.6M473 463.3v1.6M475.7 463.3v1.6M477.8 463.3v1.6M479.6 463.3v1.6M481.1 463.3v1.6M482.3 463.3v1.6M483.5 463.3v1.6M484.5 463.3v2.6M491.1 463.3v1.6M495 463.3v1.6M497.7 463.3v1.6M499.9 463.3v1.6M501.6 463.3v1.6M503.1 463.3v1.6M504.4 463.3v1.6M505.5 463.3v1.6M506.5 463.3v2.6" stroke="#000" stroke-width="0.8" fill="none"/>
<text x="413.8" y="476.5" font-size="11" fill="#000" stroke="#000" stroke-width="0.25">10<tspan font-size="6.3" dx="1.3" dy="-4.6">0</tspan></text>
<text x="435.8" y="476.5" font-size="11" fill="#000" stroke="#000" stroke-width="0.25">10<tspan font-size="6.3" dx="1.3" dy="-4.6">1</tspan></text>
<text x="457.8" y="476.5" font-size="11" fill="#000" stroke="#000" stroke-width="0.25">10<tspan font-size="6.3" dx="1.3" dy="-4.6">2</tspan></text>
<text x="479.9" y="476.5" font-size="11" fill="#000" stroke="#000" stroke-width="0.25">10<tspan font-size="6.3" dx="1.3" dy="-4.6">3</tspan></text>
<text x="501.9" y="476.5" font-size="11" fill="#000" stroke="#000" stroke-width="0.25">10<tspan font-size="6.3" dx="1.3" dy="-4.6">4</tspan></text>
<text transform="translate(409.1 393.1) rotate(-90)" font-size="10.3" font-weight="normal" text-anchor="middle" dominant-baseline="central" fill="#000" stroke="#000" stroke-width="0.25">32</text>
<text transform="translate(409.1 463.5) rotate(-90)" font-size="10.3" font-weight="normal" text-anchor="middle" dominant-baseline="central" fill="#000" stroke="#000" stroke-width="0.25">0</text>
</svg></body></html>
